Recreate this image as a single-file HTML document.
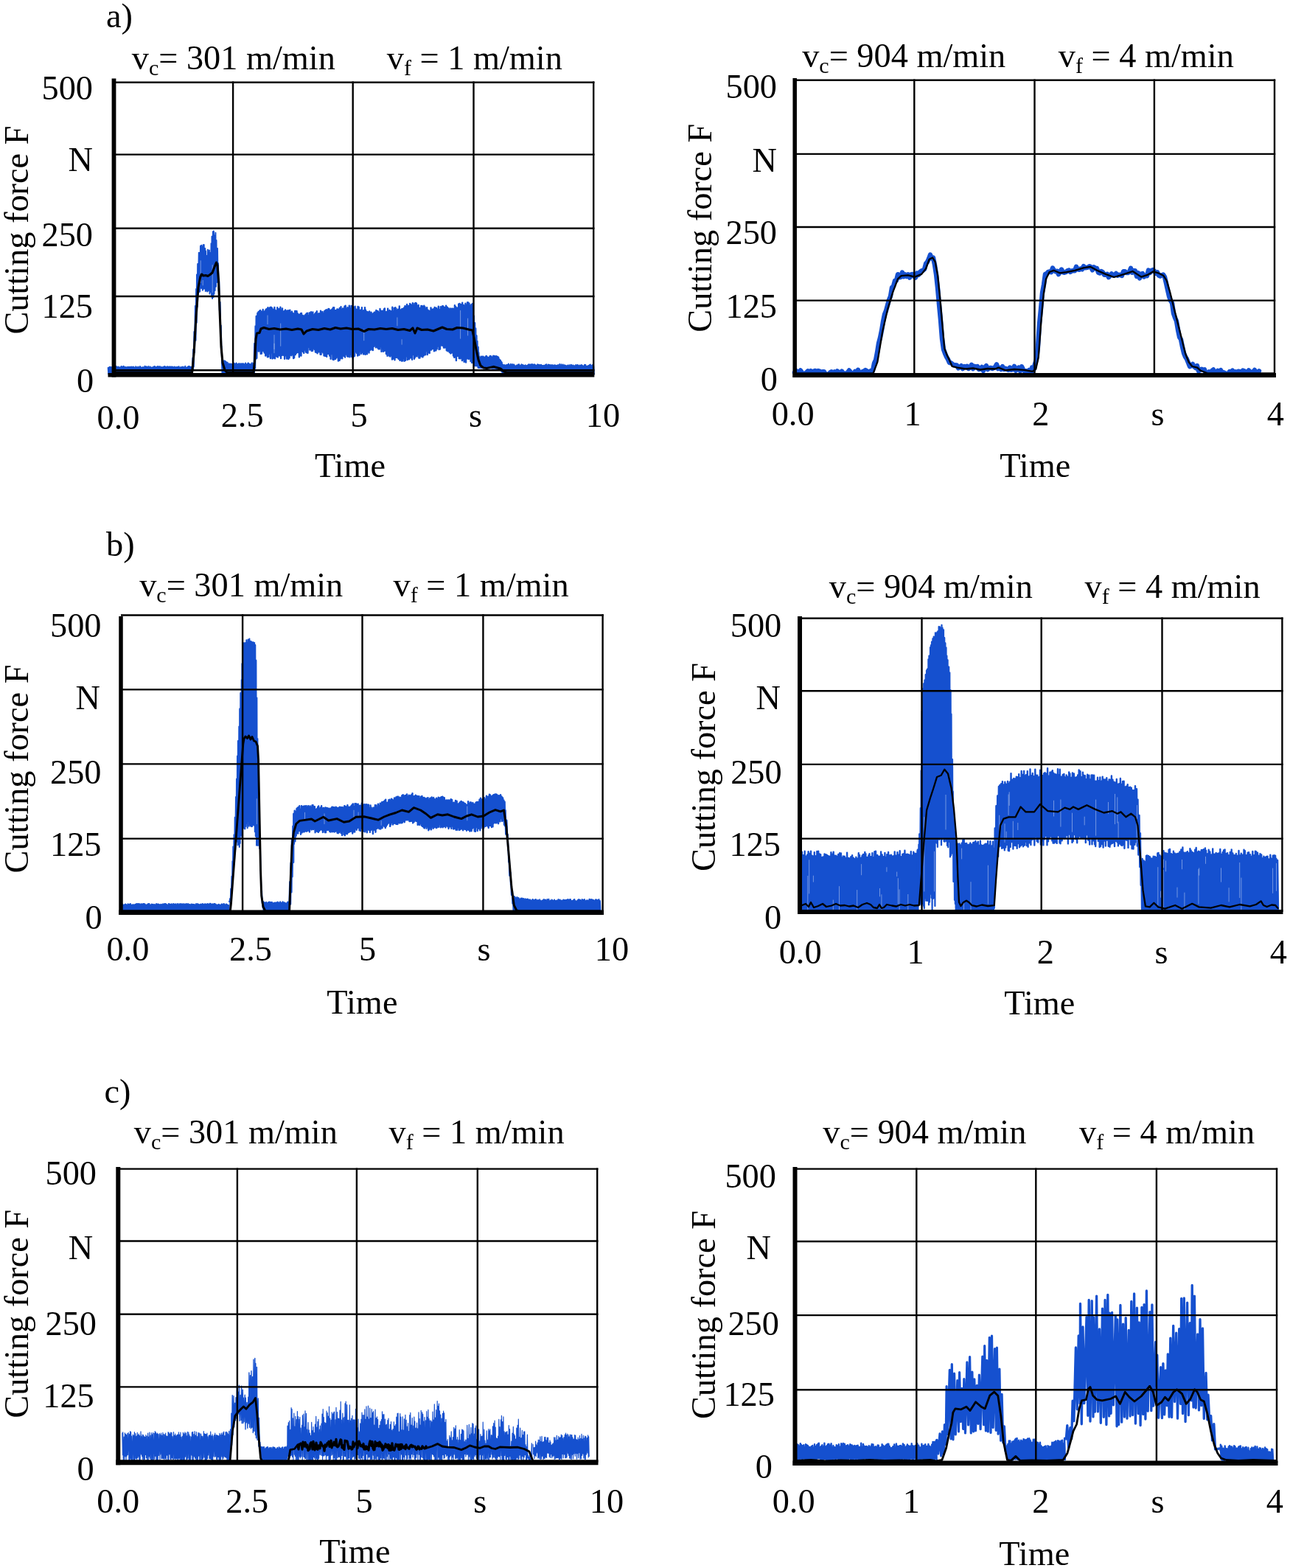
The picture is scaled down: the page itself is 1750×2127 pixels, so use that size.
<!DOCTYPE html>
<html lang="en">
<head>
<meta charset="utf-8">
<title>Cutting force over time</title>
<style>
html,body{margin:0;padding:0;background:#fff;}
body{width:1750px;height:2127px;overflow:hidden;}
svg{display:block;}
svg text{font-family:"Liberation Serif",serif;font-size:46.3px;fill:#000;white-space:pre;}
</style>
</head>
<body>

<svg width="1750" height="2127" viewBox="0 0 1750 2127">
<rect width="1750" height="2127" fill="#fff"/>
<g id="chart-al">
<g fill="none" stroke="#1550cf" stroke-linejoin="round" stroke-linecap="round">
<polyline points="146.7,498.9 147.3,507.5 147.8,498.5 148.3,507.5 148.9,497.8 149.4,507.5 149.9,498.1 150.5,507.5 151,498.1 151.6,507.5 152.1,498.6 152.6,507.5 153.5,496.9 154.1,507.5 154.6,496.8 155.2,507.5 155.8,498.5 156.3,507.5 156.7,497.2 157.3,507.5 157.7,497.1 158.2,507.5 158.9,498.5 159.5,507.5 160.2,497.6 160.8,507.5 161.2,498.4 161.8,507.5 162,498.2 162.6,507.5 163.1,498.6 163.7,507.5 164.5,496.9 165.1,507.5 165.5,497.4 166,507.5 166.6,497.4 167.2,507.5 167.8,496.7 168.4,507.5 168.7,497.7 169.2,507.5 169.8,498.5 170.4,507.5 170.8,497.9 171.3,507.5 172.2,498.6 172.8,507.5 173.3,497.8 173.9,507.5 174.5,498.1 175,507.5 175.3,498.1 175.8,507.5 176.5,497.8 177,507.5 177.6,498.3 178.1,507.5 178.5,497.6 179.1,507.5 179.8,498.3 180.4,507.5 180.8,497.6 181.3,507.5 182,498.2 182.6,507.5 183.2,498.9 183.7,507.5 184.2,497.3 184.7,507.5 185.3,498.3 185.8,507.5 186.6,498.7 187.1,507.5 187.3,497.6 187.8,507.5 188.5,498.5 189,507.5 189.9,497 190.4,507.5 190.6,498.1 191.1,507.5 191.8,498.5 192.3,507.5 193,498.7 193.6,507.5 193.9,498.1 194.4,507.5 195.2,498.4 195.8,507.5 196.5,496.7 197,507.5 197.5,497.5 198,507.5 198.3,497.6 198.9,507.5 199.5,497.5 200,507.5 200.9,498.7 201.4,507.5 201.6,497 202.1,507.5 203,498.7 203.6,507.5 203.8,497.5 204.4,507.5 205.3,498.7 205.8,507.5 206.2,498.4 206.7,507.5 207.4,498.2 208,507.5 208.6,497.4 209.2,507.5 209.5,496.9 210.1,507.5 210.7,497.6 211.3,507.5 211.8,499.1 212.4,507.5 212.7,497.9 213.2,507.5 213.8,496.9 214.4,507.5 215.1,497.6 215.6,507.5 215.9,497.2 216.4,507.5 217.2,497.3 217.7,507.5 218.2,498.3 218.7,507.5 219.5,497.9 220.1,507.5 220.6,498.4 221.1,507.5 221.7,497.9 222.2,507.5 222.8,497 223.3,507.5 223.8,497.6 224.3,507.5 224.7,497.6 225.3,507.5 225.8,498.4 226.3,507.5 227,497.3 227.6,507.5 228.1,497.5 228.7,507.5 229.3,497.9 229.8,507.5 230.4,497.3 231,507.5 231.6,497.9 232.1,507.5 232.4,497.6 233,507.5 233.8,497.6 234.4,507.5 234.8,498.3 235.3,507.5 236,498 236.6,507.5 236.8,497.5 237.4,507.5 238.3,498.3 238.8,507.5 239.1,498 239.7,507.5 240.3,498.1 240.8,507.5 241.5,497.8 242.1,507.5 242.7,497.2 243.2,507.5 243.4,498.5 243.9,507.5 244.6,498.4 245.1,507.5 245.8,497.9 246.4,507.5 246.8,498.3 247.3,507.5 248.1,497.4 248.7,507.5 249.2,498.7 249.7,507.5 250.3,498.1 250.8,507.5 251.2,496.8 251.8,507.5 252.4,498.8 252.9,507.5 253.6,498.4 254.1,507.5 254.5,497.9 255,507.5 255.5,497.1 256.1,507.5 256.7,497.1 257.2,507.5 257.7,497.4 258.2,507.5 259.2,497.8 259.8,507.5" stroke-width="2"/>
<polyline points="260.1,503.4 260.7,505.8 261.4,485.3 262,500.8 262.2,474.1 262.8,497.6 263.4,450 264,477.9 264.9,415 265.5,461.8 266.1,392 266.7,437.8 267,372.5 267.6,416.2 268.2,357.9 268.8,399.2 269.8,342.8 270.4,395.9 270.6,343 271.2,395.4 272,333.7 272.6,390.7 273.2,332.7 273.8,390.9 274.3,334.8 274.9,393.8 275.6,332.2 276.2,391.8 276.7,332 277.3,391.6 278.2,336.9 278.8,394.9 279,340.6 279.6,394.2 280.6,347.1 281.2,395.4 281.8,338.7 282.4,394.6 282.6,345.2 283.2,392.6 283.9,339.6 284.5,398.4 285.3,342.9 285.9,395.9 286.5,330.2 287.1,402.4 287.5,320.8 288.1,405 288.9,314.3 289.5,403 289.9,313.4 290.5,398.5 291,319.3 291.6,394 292.4,315.8 293,388.7 293.5,326.1 294.1,382.9 295,337 295.6,382.3 296,357 296.6,394.8 297.2,381.5 297.8,421.1 298.6,409.7 299.2,455.8 299.8,441.4 300.4,478.7 300.6,470.2 301.2,493.4 301.8,485.3 302.4,500.3" stroke-width="2"/>
<path d="M272.2 353.7V383.5M275.2 380.4V386.9M288.2 359.6V396.7" stroke="#fff" stroke-opacity="0.45" stroke-width="0.9"/>
<polyline points="301,491 301.5,507.5 302.1,489.6 302.6,507.5 303.1,490.9 303.7,507.5 304.1,489.2 304.6,507.5 305.5,489.8 306.1,507.5 306.3,490.4 306.9,507.5 307.4,491.6 307.9,507.5 308.6,491.8 309.1,507.5 309.9,494.7 310.5,507.5 310.7,493.3 311.2,507.5 312.2,494 312.7,507.5 313.2,493.6 313.7,507.5 314.2,494.4 314.8,507.5 315.1,494.1 315.7,507.5 316.3,495.1 316.9,507.5 317.6,492.8 318.1,507.5 318.6,494.2 319.1,507.5 319.5,493.4 320.1,507.5 320.7,492.6 321.3,507.5 322,493.9 322.6,507.5 323.1,494.5 323.7,507.5 324.2,493.1 324.7,507.5 325.1,494.1 325.6,507.5 326.5,493.3 327.1,507.5 327.5,493.7 328,507.5 328.3,493.6 328.9,507.5 329.5,493.3 330.1,507.5 330.6,493.4 331.1,507.5 332,494.6 332.5,507.5 333.1,492.6 333.6,507.5 334.2,494.4 334.7,507.5 335.3,494 335.8,507.5 336.4,492.6 337,507.5 337.3,492.8 337.8,507.5 338.4,493.9 339,507.5 339.4,494.9 340,507.5 340.4,493.8 341,507.5 341.8,492.3 342.3,507.5 342.6,494.6 343.2,507.5 344.1,493.6 344.6,507.5" stroke-width="2"/>
<polyline points="343.9,492.9 344.6,505.7 345.3,466 346,499.5 346.6,442.4 347.3,486.6 347.7,429 348.3,485.8 349.4,424.8 350,476 350.6,423.1 351.2,476.6 352,421.9 352.6,474.1 353,421 353.7,479.9 354.3,422.6 355,479.5 355.4,423 356.1,473.8 356.7,419.9 357.4,476.2 358.1,423.3 358.7,478.6 359.5,421.8 360.2,482.6 360.7,419.8 361.3,481.6 362.2,418.9 362.9,484.3 363.5,417.3 364.2,483.9 365,418.8 365.7,479.6 366.3,417.1 366.9,486 367.5,416.8 368.2,478.4 368.9,417.7 369.5,486.4 370.1,420.3 370.7,485.7 371.4,419.4 372.1,484.2 372.4,417 373,486.3 373.7,420.9 374.3,482.8 375.1,421.8 375.7,483.7 376.3,417.3 376.9,484.4 377.8,419.5 378.4,481.9 378.9,419.2 379.6,482.6 380.4,416.7 381,486 381.9,421 382.5,481.9 383,418.5 383.6,481.2 384.5,423.2 385.1,481.9 385.4,422.2 386.1,486.7 387,420.4 387.6,482.2 388.3,424.2 389,486.5 389.4,421.5 390,486 390.6,421.5 391.3,486.9 392,421.3 392.6,485.4 393.4,420.7 394,481.6 394.7,424.6 395.4,482.2 396,422.6 396.6,480.5 397.5,425 398.1,486.1 398.4,425.6 399.1,485.2 400.1,421.9 400.8,481.1 401.4,421.9 402,479 402.6,422.1 403.3,477.7 403.9,425.5 404.5,478.1 405.2,427 405.9,484.3 406.4,426.7 407,482 407.9,425.2 408.5,482.6 409,425 409.6,475.6 410.4,427.9 411,477 411.6,428.7 412.2,478.9 412.7,428.4 413.3,474.7 414.4,426.9 415,477.6 415.6,425.5 416.2,478.2 416.9,424.7 417.5,478.7 418.3,428.4 418.9,470.8 419.6,424.4 420.3,474.6 420.5,424.4 421.1,469.5 422,423.2 422.7,476.1 423.4,427.6 424.1,475.7 424.4,423.5 425,472.7 426,427.4 426.7,474 427.2,425.8 427.9,477.6 428.5,424.2 429.2,477.9 429.8,422.1 430.5,479.3 431,425.7 431.6,477.4 432.6,425.1 433.3,477.2 433.9,425.5 434.6,480.8 435,421.6 435.6,480.8 436.1,423.3 436.8,476.7 437.6,423 438.3,478.4 438.9,426 439.5,482.4 440.3,421.9 440.9,482.8 441.3,421.2 442,482.9 442.6,420.1 443.2,483.8 444.3,420.5 444.9,479.7 445.5,419 446.2,479.9 446.5,419.3 447.1,482.6 447.9,421.4 448.6,486.8 449.4,420.5 450.1,480.1 450.8,419.3 451.4,487.6 452,417.3 452.7,488.1 453.2,417.3 453.9,482.6 454.3,421 455,487 455.8,421.1 456.4,485.2 457.3,419.5 458,482.5 458.2,419.7 458.9,489.5 459.9,419.8 460.6,488.9 460.8,418 461.5,486.8 462.5,416.3 463.1,485.5 463.7,419.7 464.3,486.2 465.1,418.5 465.7,482.6 466.3,419.3 466.9,483.1 467.4,415.8 468.1,484.5 468.7,414.7 469.3,480.5 470.3,418.9 471,482.9 471.4,417.3 472,483.8 472.9,417.9 473.6,483.2 473.8,414.8 474.5,484.3 475.2,419 475.8,480.9 476.5,415 477.1,483.8 478.1,415.2 478.7,485.8 479,419.7 479.7,483.7 480.4,416.7 481.1,482.7 481.7,415.8 482.4,477.2 483.3,419.6 484,479 484.6,420.5 485.2,482.6 485.5,416 486.1,481.6 486.8,416.7 487.5,481.6 488.3,421 488.9,476.4 489.5,420.7 490.1,479.8 490.9,417.3 491.6,477.7 492.4,422.3 493,480.4 493.3,421.3 494,479.9 495,417.3 495.6,480.9 495.9,420.5 496.6,477.4 497.3,422.8 498,480.2 498.6,423.2 499.3,476.8 499.9,423.8 500.6,478.5 501.2,422.5 501.8,475 502.6,425.7 503.2,472.9 503.6,423.7 504.3,474.4 505.3,425.9 505.9,475.1 506.7,425 507.3,469.7 507.7,423.7 508.3,467.2 509.1,423.4 509.8,471.3 510.3,421 510.9,470.3 511.7,421.9 512.3,471.8 512.8,422.4 513.4,473.2 514.2,424.5 514.9,473.4 515.5,419 516.1,470.4 516.9,421.8 517.5,476.9 518.2,422.4 518.9,470.2 519.4,421.6 520,476.8 521,419.2 521.6,475.7 521.9,418.5 522.5,473.9 523.2,423.3 523.9,480 524.8,423 525.5,482.8 526.1,418.7 526.8,477.2 527.3,422.2 528,482.5 528.6,420.9 529.3,483.5 530.1,422.2 530.7,482 531.4,422.1 532,487.6 532.3,416.8 533,486.8 534.1,422.1 534.7,486 534.9,417.9 535.5,488.3 536.4,417.1 537.1,484.9 537.5,418.8 538.1,484.5 538.7,421.3 539.4,485.3 540.1,419.8 540.7,486.8 541.8,415.5 542.4,488.7 542.8,420.6 543.4,485.5 544.1,420.3 544.8,489.5 545.3,418.9 545.9,489.5 546.6,419.5 547.2,486.3 547.9,417.7 548.5,489.7 549.4,415.1 550.1,488.8 550.5,415.8 551.2,483.4 552.1,413 552.8,488 553.5,416.1 554.1,483.6 554.4,414.9 555.1,487.3 556.1,412 556.7,485.2 557.1,412.9 557.7,485.3 558.4,414.6 559.1,487.7 559.8,411.1 560.5,481 561.3,414.2 562,486.8 562.4,411.7 563,484.8 563.9,411 564.6,482.9 565,411.8 565.7,483.4 566.2,414.8 566.8,480.6 567.7,413.9 568.3,485.6 568.9,417.8 569.5,485.5 570.2,417.7 570.8,482 571.3,415 571.9,483.4 572.8,415.3 573.4,484.4 574.2,416.2 574.9,482.3 575.3,414.7 576,479.1 576.5,416.5 577.1,481.3 577.8,419 578.5,476 579.2,417.2 579.8,481.1 580.6,420.8 581.3,478.2 582.1,421.8 582.7,478.9 583.4,422.3 584,474.6 584.5,417.4 585.1,474.6 586.1,419.6 586.7,473 587.2,420.9 587.8,470 588.2,419.1 588.9,476.3 589.6,416.9 590.3,475.5 590.7,417.6 591.4,475.4 592.1,418 592.7,473.2 593.7,419.6 594.4,469.6 594.8,415.7 595.5,474 596.3,420.5 597,473.6 597.7,416.1 598.4,465.9 598.7,416.7 599.3,468.6 600.2,415.3 600.9,468.8 601.3,415.5 601.9,471.5 602.9,416.9 603.5,471.6 603.9,417.7 604.6,468.9 605.1,414.8 605.8,475.2 606.8,416.8 607.4,476.3 608.1,418.3 608.8,475.8 609.1,420.3 609.7,477.7 610.6,418.5 611.3,479.4 612,420.4 612.7,478.5 612.9,418.8 613.5,477.5 614.3,418.8 615,482.5 615.6,419.4 616.2,484.8 616.9,414.1 617.6,484.3 618.2,416.2 618.9,489 619.7,417.6 620.4,482.9 620.7,417.7 621.3,482.9 622.2,412.4 622.8,486 623.7,412 624.4,486.3 625,413.8 625.6,485.5 626.2,413 626.9,489.1 627.2,410.8 627.9,487.5 628.9,414 629.6,490.7 629.9,415.5 630.5,490.5 631.4,411.7 632.1,491.6 632.5,413.5 633.1,486.6 634.1,410.3 634.7,486.4 635.3,410.4 636,486.9 636.5,411.7 637.2,485.3 637.8,415 638.5,489.9 639.4,413.1 640,491.9 640.3,415.4 641,487" stroke-width="2.4"/>
<path d="M624.6 421.3V459.2M545.1 460.7V467.2M493.7 446.7V461.8M372 454.6V473.5M634.6 432.1V455M538.9 430.9V441.9M372 466.2V478.7M380.7 439V469.3M363 428V439.7" stroke="#fff" stroke-opacity="0.45" stroke-width="0.9"/>
<polyline points="640.8,411.8 641.3,491.8 641.9,419.1 642.4,493.7 643,428.6 643.6,495.8 644.3,438.1 644.9,496.4 645.4,445.6 645.9,496 646.6,455.2 647.2,496.8 647.6,462.8 648.1,496.3 648.8,470.7 649.4,496.9 649.5,478.2 650,497.4" stroke-width="2"/>
<polyline points="648.1,483.6 648.6,499 649,484.4 649.5,499 650.1,483.8 650.6,499.1 651.3,485.3 651.9,499.1 652.4,483.6 652.9,499.2 653.4,483.8 653.9,499.2 654.5,483.5 655,499.2 655.5,483.4 656.1,499.3 656.8,484.4 657.3,499.3 658,484.4 658.5,499.4 659.2,482.9 659.7,499.4 660,482.7 660.6,499.4 661.4,484.2 661.9,499.5 662.4,485 662.9,499.5 663.4,484.7 663.9,499.6 664.5,483.1 665.1,499.6 665.5,482.8 666.1,499.6 666.8,483.4 667.4,499.7 668,484.9 668.5,499.7 669.1,482.6 669.7,499.7 670.1,483 670.6,499.8 670.9,482.8 671.5,499.8 672.2,483.3 672.7,499.9 673.3,483 673.9,499.9 674.3,483.5 674.8,499.9 675.5,484.1 676,500 676.4,484.7 677,500.6 677.7,487.5 678.2,501.7 679,488.7 679.5,502.8 680,490.5 680.5,503.9 680.8,491.6 681.4,505.2 681.9,494.4 682.5,506.5 683,495.8 683.5,507.5 684.1,495.1 684.6,507.5 685.5,495.6 686,507.5 686.6,495.6 687.1,507.5 687.4,494.8 688,507.5 688.9,494.8 689.4,507.5 689.9,493.6 690.4,507.5 691,495 691.6,507.5 691.9,496 692.5,507.5 693,493.7 693.5,507.5 694.2,495.3 694.8,507.5 695.4,494.1 696,507.5 696.6,495.7 697.1,507.5 697.4,494.5 698,507.5 698.6,496.3 699.1,507.5 699.8,496.4 700.3,507.5 700.8,495.5 701.3,507.5 701.7,495.8 702.3,507.5 702.9,494.5 703.5,507.5 704.1,494.2 704.6,507.5 705,496.4 705.6,507.5 706.2,495.4 706.8,507.5 707.6,494.3 708.1,507.5 708.5,495.9 709.1,507.5 709.5,495.1 710.1,507.5 710.7,495.9 711.3,507.5 711.6,496.2 712.2,507.5 712.7,495.3 713.3,507.5 714.1,496.2 714.6,507.5 715,495.9 715.6,507.5 716.3,495 716.9,507.5 717.1,494.2 717.7,507.5 718.6,494.4 719.1,507.5 719.5,494.6 720,507.5 720.5,494.8 721.1,507.5 721.6,494.1 722.2,507.5 722.9,494.5 723.5,507.5 723.7,494.7 724.3,507.5 725.2,494.3 725.7,507.5 726.3,495.3 726.8,507.5 727.1,495.8 727.6,507.5 728.4,495.4 728.9,507.5 729.2,494.2 729.7,507.5 730.7,494.8 731.2,507.5 731.5,495.1 732,507.5 732.5,495.2 733,507.5 734,494.7 734.5,507.5 734.7,495.6 735.3,507.5 735.8,496 736.4,507.5 737.2,495.8 737.7,507.5 738.3,496.1 738.8,507.5 739.5,495.2 740,507.5 740.2,494.7 740.8,507.5 741.3,494.3 741.9,507.5 742.5,496.4 743,507.5 743.7,494.5 744.3,507.5 744.8,495 745.4,507.5 745.8,495.1 746.3,507.5 747.2,495.3 747.8,507.5 748.3,495.7 748.8,507.5 749.1,495 749.7,507.5 750.4,496 750.9,507.5 751.6,495.2 752.1,507.5 752.5,495.7 753,507.5 753.5,495.6 754,507.5 754.8,495.7 755.3,507.5 755.7,495.9 756.3,507.5 757,495 757.6,507.5 757.9,496.3 758.5,507.5 759.2,494.1 759.7,507.5 760.3,496.5 760.8,507.5 761.4,494.2 762,507.5 762.3,495.6 762.9,507.5 763.7,494.4 764.2,507.5 764.5,496.1 765.1,507.5 765.8,495.3 766.3,507.5 766.9,495.7 767.4,507.5 767.8,496.1 768.4,507.5 769.1,496.6 769.6,507.5 770.1,495.6 770.7,507.5 771.3,496.2 771.8,507.5 772.2,495.2 772.7,507.5 773.4,496.7 773.9,507.5 774.4,494.7 775,507.5 775.6,495.3 776.2,507.5 776.5,496.4 777.1,507.5 777.6,495.6 778.2,507.5 779.1,496.3 779.6,507.5 779.9,496.5 780.4,507.5 781.2,495.1 781.8,507.5 782.2,496.6 782.8,507.5 783.3,495.1 783.8,507.5 784.2,495.4 784.8,507.5 785.5,496.6 786,507.5 786.5,495.4 787,507.5 787.6,495.8 788.1,507.5 789,495.1 789.6,507.5 790,496 790.6,507.5 791,496.4 791.6,507.5 791.9,496.5 792.5,507.5 793.1,494.7 793.6,507.5 794.4,495.1 795,507.5 795.3,496.7 795.8,507.5 796.6,496.7 797.2,507.5 797.5,496.4 798,507.5 798.5,496.1 799.1,507.5 799.9,494.9 800.4,507.5 800.8,494.6 801.4,507.5 801.9,495.7 802.4,507.5 803.3,496 803.8,507.5 804.1,494.8 804.7,507.5 805.2,496.5 805.8,507.5" stroke-width="2"/>
</g>
<g stroke="#000" stroke-width="2.4" fill="none">
<line x1="316.1" y1="110.5" x2="316.1" y2="508.8"/>
<line x1="478.7" y1="110.5" x2="478.7" y2="508.8"/>
<line x1="642.5" y1="110.5" x2="642.5" y2="508.8"/>
<line x1="805.2" y1="110.5" x2="805.2" y2="508.8"/>
<line x1="154" y1="111.7" x2="806.4" y2="111.7"/>
<line x1="154" y1="209.6" x2="806.4" y2="209.6"/>
<line x1="154" y1="309.7" x2="806.4" y2="309.7"/>
<line x1="154" y1="402" x2="806.4" y2="402"/>
<line x1="154" y1="502.2" x2="806.4" y2="502.2"/>
</g>
<g stroke="#000" fill="none">
<line x1="154.5" y1="106.5" x2="154.5" y2="511.6" stroke-width="5.8"/>
<line x1="146.5" y1="508.8" x2="806.3" y2="508.8" stroke-width="5.6"/>
</g>
<g fill="none" stroke="#000" stroke-linejoin="round" stroke-linecap="round">
<polyline points="156,505.2 260.6,505.2 263,480 266,430 269,390 271.7,376 273.5,372 276,374 279,373.5 282,374.5 285,372.5 288,370 291,362 293.5,356 295,360 296.5,380 298,420 300,470 302,492 305,502 308,505.2 344,505.2 345.5,490 347,460 348.5,452 352,451.5 354,446 358,444.5 365,446.5 372,445.5 380,447 388,446 396,447.5 404,446 409,447 412,453 416,449 424,446.5 432,447.5 440,445.5 448,447 455,444.5 462,446 470,445 478,446.5 486,446 494,449.5 500,446.5 508,447 516,445.5 524,446.5 532,445.5 540,447.5 548,446.5 556,448.5 560,445 563,452 566,445 572,447.5 580,447 588,449 594,446.5 600,444 606,446.5 614,447 620,444.5 628,445 636,447 640.9,448 643,458 646,474 649,488 652,496 656,499 660.5,499.5 669.7,497.4 678.9,500 683.5,504 688,505.2 804,505.2" stroke-width="3.1"/>
</g>
<g>
<text x="144" y="36.6">a)</text>
<text x="178.8" y="94.3">v<tspan font-size="30" dy="8">c</tspan><tspan dy="-8">= 301 m/min</tspan></text>
<text x="524.8" y="94.3">v<tspan font-size="30" dy="8">f</tspan><tspan dy="-8"> = 1 m/min</tspan></text>
<text x="126" y="135.4" text-anchor="end">500</text>
<text x="126" y="232.4" text-anchor="end">N</text>
<text x="126" y="333.5" text-anchor="end">250</text>
<text x="126" y="431.2" text-anchor="end">125</text>
<text x="127.2" y="531.6" text-anchor="end">0</text>
<text x="160.5" y="581.7" text-anchor="middle">0.0</text>
<text x="328.6" y="579.1" text-anchor="middle">2.5</text>
<text x="487" y="579.1" text-anchor="middle">5</text>
<text x="645" y="579.1" text-anchor="middle">s</text>
<text x="818" y="579.1" text-anchor="middle">10</text>
<text x="475" y="646.9" text-anchor="middle">Time</text>
<text transform="translate(38.3 312) rotate(-90)" text-anchor="middle">Cutting force F</text>
</g>
</g>
<g id="chart-ar">
<g fill="none" stroke="#1550cf" stroke-linejoin="round" stroke-linecap="round">
<polyline points="1078,505.1 1080,502.9 1082,505.3 1084,505.1 1086,502.5 1088,505.7 1090,508 1092,506.9 1094,505.4 1096,503.3 1098,506.7 1100,503.2 1102,507.6 1104,503.5 1106,502.9 1108,507.1 1110,503 1112,503.5 1114,506.5 1116,504.3 1118,504.3 1120,508.1 1122,507.7 1124,508.6 1126,505.5 1128,504.2 1130,505.7 1132,504.4 1134,508.5 1136,503.4 1138,507.5 1140,507.2 1142,503.5 1144,507.1 1146,506.5 1148,507.2 1150,505.2 1152,502.5 1154,505 1156,508.4 1158,508 1160,503.8 1162,506.2 1164,501.7 1166,506.7 1168,505.7 1170,504.3 1172,503.5 1174,502.1 1176,503.2 1178,504.6 1180,504.6 1182,502.6 1184,502.8 1186,492.6 1188,488.5 1190,478.2 1192,465.5 1194,458.1 1196,448.4 1198,436.2 1200,426.5 1202,421.5 1204,414.1 1206,406.7 1208,402 1210,389.9 1212,388.3 1214,380.7 1216,380.5 1218,372.2 1220,376.3 1222,375.9 1224,369.5 1226,375.2 1228,372.3 1230,375 1232,372.4 1234,376.6 1236,372.3 1238,371.9 1240,375 1242,376.6 1244,370.6 1246,372.9 1248,369.1 1250,367.5 1252,366.7 1254,365.2 1256,357.7 1258,355.4 1260,351 1262,345.6 1264,350.5 1266,349.6 1268,359.3 1270,372.2 1272,390.6 1274,413.1 1276,434.1 1278,459.5 1280,473.8 1282,479.4 1284,484.1 1286,487.4 1288,492.1 1290,492.3 1292,493.8 1294,495.4 1296,495.3 1298,495.4 1300,499.4 1302,497.9 1304,496.2 1306,500.1 1308,497 1310,497.7 1312,496.7 1314,500 1316,498.5 1318,494.8 1320,500.2 1322,496.8 1324,497.8 1326,497 1328,501 1330,500.4 1332,497.9 1334,503 1336,498.4 1338,496.2 1340,501.1 1342,499.1 1344,498.9 1346,500 1348,499.1 1350,498 1352,494.4 1354,500.1 1356,499.1 1358,501.1 1360,497.2 1362,500.9 1364,499.7 1366,500.8 1368,501.8 1370,498.5 1372,501.7 1374,501.2 1376,496.8 1378,502.6 1380,501.1 1382,498.6 1384,503.2 1386,497.3 1388,501.3 1390,503.7 1392,503.1 1394,504.8 1396,502.1 1398,505.6 1400,498.5 1402,502.6 1404,493.8 1406,487.9 1408,470.4 1410,439.7 1412,419.3 1414,397.3 1416,386.3 1418,371.7 1420,371.1 1422,368.8 1424,368.5 1426,369.3 1428,363.5 1430,366.9 1432,368.4 1434,367.7 1436,372.1 1438,368.8 1440,365.5 1442,369.3 1444,369.8 1446,369.1 1448,367.2 1450,366.6 1452,369 1454,367.5 1456,367.1 1458,367.4 1460,361.7 1462,365.4 1464,365.9 1466,364.4 1468,365.4 1470,361.1 1472,363.3 1474,363 1476,362.6 1478,361.2 1480,362.1 1482,366.4 1484,362.4 1486,364.2 1488,364 1490,369.8 1492,370.6 1494,368 1496,369.2 1498,372.8 1500,372.5 1502,371.7 1504,376.2 1506,373.8 1508,371.4 1510,373.6 1512,372.9 1514,370.9 1516,373.7 1518,372.6 1520,373.1 1522,374 1524,368.3 1526,368.1 1528,370 1530,370.1 1532,369 1534,363.8 1536,369.8 1538,367.2 1540,367.3 1542,375 1544,370.2 1546,377.5 1548,371.7 1550,371 1552,375.5 1554,373.5 1556,374.3 1558,366.5 1560,369.9 1562,366.9 1564,366.1 1566,367.7 1568,370.9 1570,369.3 1572,373.6 1574,374.6 1576,373.2 1578,372.6 1580,375.7 1582,384.3 1584,393.4 1586,402 1588,408 1590,410.8 1592,425.3 1594,431 1596,435.5 1598,447.5 1600,457.2 1602,460.4 1604,470.6 1606,479 1608,484 1610,487.1 1612,492 1614,497.2 1616,496.3 1618,494 1620,497.4 1622,499.1 1624,496 1626,503.5 1628,501.9 1630,500.8 1632,501.6 1634,501.3 1636,507.6 1638,507.4 1640,504.5 1642,508.6 1644,503.1 1646,501.5 1648,507.5 1650,507 1652,502.8 1654,503.8 1656,502.1 1658,505.5 1660,505.3 1662,506.1 1664,507.6 1666,507.6 1668,504 1670,504.5 1672,502.6 1674,505.7 1676,504.3 1678,506.5 1680,503.7 1682,504.1 1684,506.2 1686,502.6 1688,503.2 1690,505.5 1692,506.3 1694,502.4 1696,504.5 1698,504.8 1700,504.4 1702,502 1704,506.4 1706,506.5 1708,503.3" stroke-width="6.4" stroke-linejoin="round"/>
</g>
<g stroke="#000" stroke-width="2.4" fill="none">
<line x1="1240.3" y1="107.5" x2="1240.3" y2="509"/>
<line x1="1403.5" y1="107.5" x2="1403.5" y2="509"/>
<line x1="1565.9" y1="107.5" x2="1565.9" y2="509"/>
<line x1="1729" y1="107.5" x2="1729" y2="509"/>
<line x1="1078.2" y1="108.7" x2="1730.2" y2="108.7"/>
<line x1="1078.2" y1="208.9" x2="1730.2" y2="208.9"/>
<line x1="1078.2" y1="308" x2="1730.2" y2="308"/>
<line x1="1078.2" y1="407.6" x2="1730.2" y2="407.6"/>
</g>
<g stroke="#000" fill="none">
<line x1="1078.2" y1="106" x2="1078.2" y2="512" stroke-width="5.5"/>
<line x1="1075.4" y1="509" x2="1731" y2="509" stroke-width="6"/>
</g>
<g fill="none" stroke="#000" stroke-linejoin="round" stroke-linecap="round">
<polyline points="1080,506.3 1184.6,506.3 1190.3,491.2 1197.2,449.8 1204.1,419.8 1211,396.8 1218,378.3 1222.6,374.2 1231.8,373.3 1241,375.6 1250.2,371.9 1256,364.5 1260.6,351.8 1265.2,349.5 1268.7,355.3 1272.1,373.7 1275.6,408.3 1279,447.5 1281.3,472.8 1284.8,482 1288.2,489 1291.7,497 1298.6,498.6 1310,500.5 1320,499.5 1330,501.5 1340,500 1350,500.5 1354.6,498.6 1363.8,502.3 1376,501 1389,501.8 1400.7,503.9 1405.3,500.5 1408.8,484.3 1412.2,438.2 1415.7,399 1419.1,378.3 1423.7,369 1429.5,366.8 1437.6,370.3 1446.8,369.1 1458.3,366.8 1469.8,363.4 1479,361.8 1488.2,366.8 1499.8,371.9 1511.3,376 1525.1,371.9 1536.6,368 1548.2,375.6 1557.4,372.6 1564.3,368.4 1571.2,370.3 1578.1,373.7 1582.7,380.6 1587.3,396.8 1594.2,424.4 1601.2,452 1608.1,479.7 1612.7,491.2 1617.3,497 1624.2,498.6 1628.8,502.8 1638,506.3 1728,506.3" stroke-width="2.3"/>
</g>
<g>
<text x="1088.2" y="90.6">v<tspan font-size="30" dy="8">c</tspan><tspan dy="-8">= 904 m/min</tspan></text>
<text x="1435.8" y="90.6">v<tspan font-size="30" dy="8">f</tspan><tspan dy="-8"> = 4 m/min</tspan></text>
<text x="1054" y="133.4" text-anchor="end">500</text>
<text x="1054" y="233" text-anchor="end">N</text>
<text x="1054" y="331" text-anchor="end">250</text>
<text x="1054" y="431.4" text-anchor="end">125</text>
<text x="1055" y="530" text-anchor="end">0</text>
<text x="1075.6" y="576.8" text-anchor="middle">0.0</text>
<text x="1238" y="576.8" text-anchor="middle">1</text>
<text x="1411.8" y="576.8" text-anchor="middle">2</text>
<text x="1570.6" y="576.8" text-anchor="middle">s</text>
<text x="1730.3" y="576.8" text-anchor="middle">4</text>
<text x="1404.2" y="646.8" text-anchor="middle">Time</text>
<text transform="translate(964.7 309.3) rotate(-90)" text-anchor="middle">Cutting force F</text>
</g>
</g>
<g id="chart-bl">
<g fill="none" stroke="#1550cf" stroke-linejoin="round" stroke-linecap="round">
<polyline points="165.8,1226.2 166.3,1236 167.2,1227.4 167.7,1236 168,1227.9 168.6,1236 169.2,1226.9 169.7,1236 170.2,1226.4 170.8,1236 171.3,1227.2 171.9,1236 172.4,1227.8 172.9,1236 173.6,1226.3 174.1,1236 174.7,1227.1 175.2,1236 176.1,1226.5 176.6,1236 177,1226.1 177.5,1236 178.2,1227.5 178.7,1236 179.1,1227.9 179.7,1236 180.4,1227 180.9,1236 181.5,1228.1 182,1236 182.5,1227.2 183.1,1236 183.5,1227.1 184.1,1236 184.9,1226 185.5,1236 185.9,1226.8 186.4,1236 186.8,1226.1 187.3,1236 188,1226.1 188.5,1236 189.3,1226.2 189.8,1236 190.2,1227.3 190.7,1236 191.4,1226.2 191.9,1236 192.2,1226.4 192.8,1236 193.4,1226.6 193.9,1236 194.4,1226.1 195,1236 195.8,1225.9 196.3,1236 196.6,1226.5 197.1,1236 198,1227.4 198.5,1236 199,1227.8 199.5,1236 200.2,1226.7 200.8,1236 201.1,1226.1 201.7,1236 202.5,1226.1 203,1236 203.4,1227.4 204,1236 204.5,1227.5 205,1236 205.7,1226.5 206.3,1236 206.7,1227.2 207.3,1236 207.7,1226.7 208.3,1236 208.9,1227.6 209.5,1236 209.9,1227.1 210.5,1236 211.2,1227.5 211.7,1236 212.1,1226.1 212.7,1236 213.1,1227.2 213.7,1236 214.3,1226.3 214.9,1236 215.6,1227 216.2,1236 216.7,1227.2 217.2,1236 217.6,1227.2 218.1,1236 218.7,1226.7 219.3,1236 219.9,1227.5 220.5,1236 221,1226.3 221.6,1236 222.2,1227 222.8,1236 223.1,1226.1 223.6,1236 224.3,1226 224.9,1236 225.4,1226.4 225.9,1236 226.5,1227.3 227,1236 227.8,1228.1 228.3,1236 228.7,1226.1 229.2,1236 229.9,1226.2 230.5,1236 230.8,1227.1 231.4,1236 231.8,1226.8 232.4,1236 232.9,1226.2 233.5,1236 234.2,1227.6 234.7,1236 235.2,1226.1 235.8,1236 236.4,1226.4 236.9,1236 237.7,1226.8 238.2,1236 238.7,1226.2 239.2,1236 239.9,1227.8 240.4,1236 241,1226.1 241.5,1236 241.8,1227.9 242.3,1236 243.2,1226.2 243.7,1236 244,1227.5 244.5,1236 245.2,1225.9 245.8,1236 246.4,1226.5 247,1236 247.3,1226.9 247.8,1236 248.4,1226.1 248.9,1236 249.6,1227.6 250.2,1236 250.7,1226.3 251.3,1236 251.8,1227.4 252.4,1236 252.9,1225.9 253.4,1236 254.1,1227.1 254.7,1236 255.1,1226.1 255.6,1236 256,1227.4 256.5,1236 257.1,1226.7 257.6,1236 258.6,1227.2 259.2,1236 259.7,1226.4 260.2,1236 260.5,1226.8 261,1236 261.9,1226.7 262.4,1236 262.9,1227.3 263.5,1236 263.9,1227.1 264.5,1236 265.2,1227.5 265.7,1236 266.1,1226.1 266.7,1236 267.4,1227.2 267.9,1236 268.2,1226.1 268.7,1236 269.4,1226.9 269.9,1236 270.5,1227.6 271.1,1236 271.4,1227.1 272,1236 272.6,1226.4 273.1,1236 273.9,1226.7 274.5,1236 274.9,1225.9 275.4,1236 276.1,1227.3 276.7,1236 277,1226.8 277.5,1236 278,1226.3 278.5,1236 279.5,1226.4 280.1,1236 280.3,1227.4 280.8,1236 281.5,1226.1 282,1236 282.6,1226.4 283.1,1236 283.6,1227.1 284.1,1236 284.6,1225.8 285.2,1236 285.8,1225.8 286.4,1236 287.2,1227.2 287.7,1236 288.3,1226.3 288.8,1236 289.3,1227.8 289.9,1236 290.4,1226.1 290.9,1236 291.2,1226 291.8,1236 292.5,1226.4 293,1236 293.8,1227.7 294.3,1236 294.7,1227.5 295.2,1236 295.8,1227.5 296.4,1236 296.8,1226.7 297.3,1236 297.8,1227.4 298.3,1236 299.3,1227.7 299.9,1236 300.4,1226.5 300.9,1236 301.2,1226.5 301.8,1236 302.4,1227.5 303,1236 303.4,1226.1 303.9,1236 304.6,1226.5 305.1,1236 305.5,1227.8 306.1,1236 306.9,1226.5 307.4,1236 307.7,1226.8 308.3,1236 309.1,1227.7 309.7,1236 310,1227.9 310.5,1236" stroke-width="2"/>
<polyline points="310.9,1222.8 311.5,1223.3 312,1219.1 312.5,1232.3 313.2,1205.5 313.7,1224 314.4,1188.7 314.9,1208.3 315.4,1168.3 315.9,1188 316.3,1148.4 316.9,1180.8 317.5,1132.3 318.1,1165.4 318.7,1108.7 319.2,1152.8 320,1081.1 320.5,1141.5 321,1056.4 321.5,1141.4 322,1025.4 322.5,1146.4 322.9,1004.9 323.5,1145.2 324.3,985.4 324.8,1149.1 325.2,961.6 325.7,1144.1 326.3,940 326.8,1133.1 327.7,922.3 328.3,1136.1 328.4,900.3 329,1124.5 329.8,880.6 330.3,1123 331,872.1 331.5,1124.2 331.8,872.6 332.4,1124.6 333,872 333.5,1121 334.3,868.2 334.8,1117.2 335.1,871.3 335.7,1123.2 336.5,867.4 337,1114.1 337.2,868.7 337.8,1120.7 338.4,866.6 338.9,1118.1 339.5,869.8 340,1120.6 340.7,870.2 341.2,1121.2 341.7,870.7 342.2,1121 342.9,871.7 343.5,1118.8 343.8,871.3 344.4,1119.5 345.2,872.1 345.8,1128.3 346.3,874.9 346.8,1134.4 347.4,895.7 348,1146.8 348.4,946.4 348.9,1140 349.4,1002.1 349.9,1147.1 350.7,1049.5 351.3,1136.5 351.6,1103.7 352.1,1150.9 352.9,1146 353.5,1180.6 353.8,1182.7 354.4,1210.5 355.1,1208.3 355.7,1225.2 356.1,1222.3 356.6,1231.1" stroke-width="2"/>
<path d="M348.3 1083.7V1117.7M353 1168.7V1175.2" stroke="#fff" stroke-opacity="0.45" stroke-width="0.9"/>
<polyline points="357,1223.1 357.6,1236 358.1,1223.9 358.6,1236 359.3,1224.5 359.9,1236 360.1,1224.9 360.7,1236 361.2,1223.7 361.8,1236 362.7,1225.2 363.2,1236 363.7,1224.3 364.2,1236 364.7,1223.8 365.3,1236 365.9,1223.5 366.5,1236 366.8,1224 367.4,1236 368,1224 368.6,1236 368.9,1223.8 369.4,1236 370.1,1225.3 370.7,1236 371.3,1224.9 371.8,1236 372.5,1224.5 373,1236 373.3,1224.8 373.9,1236 374.8,1224.2 375.3,1236 375.8,1224.9 376.4,1236 376.7,1223.4 377.3,1236 377.9,1224.6 378.4,1236 379.1,1224.7 379.6,1236 380.1,1223.2 380.6,1236 381.4,1225.2 381.9,1236 382.1,1224.4 382.6,1236 383.6,1223.3 384.1,1236 384.6,1225.6 385.2,1236 385.5,1224.3 386,1236 386.8,1224.7 387.3,1236 387.6,1225.4 388.2,1236 388.8,1225.2 389.3,1236 390.1,1223.5 390.7,1236 391.2,1223.5 391.8,1236" stroke-width="2"/>
<polyline points="391.8,1223.9 392.4,1233.9 393.3,1196.2 394,1226.6 394.7,1170.8 395.4,1210.3 395.9,1138.5 396.5,1189.3 397.4,1120.8 398.1,1169.7 398.3,1104 398.9,1144.7 399.7,1099.8 400.4,1141.3 401.1,1101.3 401.7,1133.8 402.5,1097 403.1,1130 403.6,1095.6 404.2,1130.6 405.2,1094.7 405.8,1127 406.3,1093.3 407,1126.3 407.4,1097.8 408,1131.8 409.1,1093.3 409.8,1129.3 410,1094.3 410.7,1128 411.6,1094 412.3,1128.5 412.8,1093.4 413.5,1127.8 414.4,1093.4 415,1127.2 415.6,1093.3 416.2,1127.8 416.9,1095.4 417.6,1126.5 418.2,1093.2 418.9,1126.5 419.2,1097.1 419.9,1128.5 420.7,1093.4 421.3,1124.3 422.1,1095.2 422.7,1125.5 423.4,1092.5 424,1124.6 424.5,1092.1 425.1,1125.1 425.8,1095 426.5,1123.4 426.9,1094.3 427.6,1129.2 428.4,1097.9 429.1,1127.3 429.9,1097.3 430.5,1127.9 431.1,1094.6 431.8,1128.9 432.2,1093.5 432.9,1127.5 433.4,1097.2 434.1,1126.2 434.8,1095.6 435.4,1124.7 436.1,1093.3 436.8,1125.8 437.3,1096.3 437.9,1129 439,1096 439.7,1125.8 439.9,1096.8 440.6,1129 441.4,1095.5 442,1129.3 442.9,1096 443.5,1125.8 444.3,1096.3 444.9,1125.9 445.1,1096.7 445.8,1125.2 446.6,1096.8 447.3,1128 448.1,1097.7 448.7,1128.6 448.9,1096.4 449.6,1125.4 450.4,1094.8 451.1,1128.3 451.6,1095 452.3,1128 453.2,1095.3 453.9,1128.5 454.3,1097.9 455,1127.8 455.6,1094.8 456.2,1127.3 456.9,1095.8 457.6,1129.8 458.2,1096.5 458.8,1130.3 459.4,1095.8 460.1,1129.1 461,1094.6 461.7,1127.1 462,1095.1 462.6,1130.1 463.5,1095.3 464.1,1133 464.6,1095.1 465.2,1127.4 466.1,1095.8 466.7,1132.1 467.3,1093.1 467.9,1133.2 468.6,1093.9 469.2,1130.9 470.2,1094.7 470.9,1131.3 471.4,1092.3 472,1129.4 472.6,1094.6 473.3,1128.8 473.7,1094.9 474.3,1128.3 475.1,1094.8 475.7,1127.9 476.3,1093.4 476.9,1126.4 477.6,1091.7 478.2,1130.6 478.8,1090.4 479.5,1128.5 480.5,1094 481.2,1128.6 481.5,1090.1 482.1,1124.5 483.1,1090.3 483.8,1125.7 484.4,1091.4 485,1123.1 485.7,1090.6 486.3,1122.4 486.8,1093 487.5,1126.2 488.3,1092.7 489,1127.1 489.3,1093.1 489.9,1121.9 490.8,1089.8 491.4,1123.9 492.3,1091.2 493,1127.7 493.6,1092.9 494.3,1126.4 494.6,1091.2 495.2,1128.4 495.9,1091.7 496.5,1125.9 497.3,1091.3 497.9,1129.3 498.8,1091.9 499.4,1124.9 499.9,1091.6 500.6,1125.9 501.3,1096.5 502,1128.9 502.6,1092.4 503.2,1125.7 503.7,1095.4 504.3,1125.4 505.3,1097.6 505.9,1131.1 506.3,1095.7 506.9,1125.8 507.9,1095.5 508.6,1125.9 508.9,1092.1 509.5,1128.8 510.3,1092.5 510.9,1124.1 511.5,1095.6 512.1,1123.3 512.9,1090.6 513.6,1123.4 514,1092.6 514.7,1124.3 515.7,1089.7 516.3,1124.5 516.8,1091.9 517.5,1122.6 518,1088.3 518.6,1123.3 519.3,1088 520,1119.5 520.8,1087.2 521.4,1121.1 522.2,1085.7 522.8,1123.1 523.2,1084.8 523.8,1121 524.5,1089 525.1,1118.9 525.9,1088.6 526.5,1117 527.4,1085.1 528,1115.9 528.5,1084.8 529.2,1120.9 529.6,1086.3 530.2,1118.6 531,1083.6 531.7,1115.7 532.3,1084.7 533,1118.6 533.9,1085.5 534.6,1116.9 535,1082.5 535.7,1116.5 536.5,1084.9 537.1,1117.6 537.3,1081.5 538,1117.9 538.9,1080.6 539.5,1118 540.4,1080.8 541.1,1115.8 541.7,1082.9 542.3,1116.5 542.8,1081.8 543.5,1112.7 544.1,1082.3 544.7,1116.4 545.3,1079.3 546,1115.8 546.7,1078.3 547.4,1113.8 548.1,1079.6 548.8,1115.3 549.5,1079.2 550.1,1112.2 550.4,1078.9 551.1,1112.3 552,1077.5 552.7,1112.4 553.4,1080.6 554.1,1112 554.8,1078.8 555.4,1114 555.7,1079.7 556.3,1114 557.3,1079 558,1113.7 558.2,1078.3 558.9,1110.2 559.5,1076.2 560.2,1116.4 561.1,1080.4 561.7,1114.7 562.1,1080.2 562.8,1112.2 563.7,1078.8 564.3,1113.7 564.8,1079.7 565.5,1113.9 566,1079.9 566.7,1118.9 567.4,1080.2 568,1117.6 568.6,1080.2 569.2,1119.1 570,1083.2 570.7,1116.7 571.2,1080.7 571.9,1119.7 572.5,1079.9 573.1,1121 574.2,1082.2 574.9,1122.6 575.2,1082 575.8,1123.4 576.5,1082.7 577.2,1121.2 578,1083.6 578.6,1123.7 579.4,1082.8 580,1121.4 580.6,1082.3 581.3,1126.2 581.6,1085 582.3,1124.9 583.3,1082.9 584,1122.9 584.3,1082.8 584.9,1125.4 585.7,1081.5 586.4,1121.5 587,1083.5 587.6,1123.7 588.2,1081.9 588.9,1122.4 589.3,1084 590,1121.8 591.1,1084.5 591.7,1123 592,1082.6 592.7,1122.8 593.7,1083.8 594.3,1121.6 594.7,1081.6 595.4,1121.7 596,1082.8 596.7,1118 597.4,1082.1 598,1122.2 598.6,1081.1 599.2,1121.2 600.2,1080.8 600.8,1122.3 601.4,1081.8 602.1,1120.9 602.8,1082.3 603.5,1118.5 603.7,1086.1 604.4,1122.4 605.3,1085.5 606,1120.1 606.7,1085.8 607.4,1121.2 608,1085.4 608.6,1124.1 609.3,1085.6 610,1119.8 610.2,1085.9 610.8,1121.4 611.7,1084.1 612.4,1123.9 613.1,1084.9 613.7,1120.5 614.5,1089.1 615.2,1124.6 615.6,1088.6 616.2,1124.1 616.8,1089.8 617.5,1123.6 618,1086 618.6,1125.7 619.7,1086.8 620.3,1125.8 620.6,1090.6 621.2,1122.7 622.3,1090.1 623,1126.1 623.6,1088.7 624.2,1125.4 624.9,1087.5 625.5,1124.3 625.8,1086.9 626.5,1124.2 627.4,1088.3 628.1,1126.3 628.6,1088.4 629.2,1124.4 629.9,1089.8 630.5,1124.7 631.1,1090.2 631.7,1124.7 632.4,1091.8 633,1126.8 633.9,1091.6 634.5,1125.3 635.1,1087.3 635.8,1125.8 636.6,1090.4 637.3,1127.5 637.8,1088.5 638.5,1122.4 638.9,1088.4 639.6,1127.3 640.4,1089.7 641,1123.6 641.4,1088.9 642,1122.3 643.1,1090.6 643.7,1127.4 644.2,1091.5 644.8,1127.9 645.5,1088.6 646.1,1122.1 647,1087.9 647.7,1127.1 648.1,1088.6 648.8,1124.1 649.3,1087.8 650,1123.2 650.5,1084.7 651.2,1126.2 652,1082.6 652.6,1123.2 653.1,1084.4 653.8,1120.4 654.7,1084.1 655.3,1124.5 655.7,1085.9 656.4,1122.8 657,1082.1 657.7,1120.9 658.2,1084.2 658.9,1120.7 659.9,1079.7 660.6,1119.6 661.1,1081.9 661.8,1121 662.2,1080.7 662.8,1123 663.9,1077.8 664.6,1119.8 665.1,1078.4 665.7,1120.1 666.3,1080.8 666.9,1122.1 667.8,1079.6 668.5,1121.4 669,1078.6 669.6,1116.7 670,1078.2 670.7,1115.5 671.6,1077.4 672.2,1116.2 672.9,1077.4 673.6,1116.3 674.1,1077.9 674.7,1114.2 675.5,1079.5 676.1,1117.2 676.9,1079.2 677.5,1110.9 677.9,1080.3 678.5,1114.3 679.1,1078.3 679.8,1110.1 680.6,1080.7 681.3,1113.9 682.1,1082.4 682.8,1112.9 683.3,1085.5 684,1118.8 684.6,1087.7 685.2,1120.5 685.6,1099.1 686.2,1131.5 687.3,1112.7 688,1138.3 688.6,1132 689.3,1153.7 689.7,1149.9 690.3,1169.5 690.8,1166.6 691.4,1187.7 692.5,1183.7 693.1,1200.7 693.4,1198.4 694.1,1214.2 694.9,1208.2 695.5,1225.6" stroke-width="2.4"/>
<path d="M440 1103.9V1117.6M517.2 1113.5V1119.4M486.1 1102V1107.3M633.8 1094V1112.9M413.5 1102.3V1111.5M480 1099.2V1111.6" stroke="#fff" stroke-opacity="0.45" stroke-width="0.9"/>
<polyline points="695.9,1217 696.5,1236 697.3,1216 697.8,1236 698.4,1216.4 699,1236 699.5,1218 700,1236 700.2,1219.1 700.7,1236 701.4,1217 702,1236 702.5,1218.2 703.1,1236 703.6,1218 704.2,1236 705,1219.4 705.6,1236 705.8,1219.5 706.4,1236 706.9,1218.4 707.4,1236 708.3,1218.5 708.9,1236 709.4,1219.2 710,1236 710.4,1219.1 711,1236 711.6,1220.7 712.1,1236 712.6,1219.3 713.2,1236 713.7,1220.8 714.2,1236 714.7,1219.8 715.3,1236 715.8,1219.4 716.4,1236 716.9,1220.3 717.4,1236 718,1221.5 718.5,1236 719,1220.3 719.5,1236 720.4,1221.6 720.9,1236 721.5,1221.3 722.1,1236 722.4,1220.1 723,1236 723.7,1220.6 724.2,1236 724.6,1222.3 725.1,1236 725.8,1220.5 726.3,1236 726.9,1219.9 727.4,1236 727.8,1220.9 728.4,1236 729.1,1221.6 729.6,1236 730.1,1220.9 730.7,1236 731.1,1222.6 731.6,1236 732.2,1220.3 732.8,1236 733.3,1222.1 733.8,1236 734.7,1222.3 735.2,1236 735.4,1221.4 736,1236 736.9,1220.9 737.4,1236 737.8,1219.9 738.4,1236 739,1220.9 739.5,1236 740,1220.5 740.6,1236 740.9,1221.4 741.4,1236 742.4,1220.1 743,1236 743.1,1222.3 743.6,1236 744.4,1219.8 744.9,1236 745.4,1222 745.9,1236 746.8,1221.5 747.3,1236 747.8,1221.7 748.3,1236 748.6,1220.4 749.2,1236 749.8,1221.6 750.3,1236 750.9,1222.2 751.5,1236 752.1,1220.6 752.6,1236 753.3,1222 753.9,1236 754.1,1222 754.7,1236 755.3,1221.6 755.9,1236 756.4,1221.7 757,1236 757.5,1219.9 758.1,1236 758.8,1221.2 759.4,1236 759.7,1220.4 760.3,1236 760.8,1222.2 761.4,1236 761.9,1221.4 762.5,1236 762.9,1221.9 763.5,1236 764.2,1220.4 764.7,1236 765.3,1221 765.8,1236 766.3,1221.1 766.9,1236 767.7,1220.9 768.2,1236 768.5,1221.1 769.1,1236 769.8,1219.9 770.3,1236 770.8,1222.2 771.4,1236 771.8,1220.2 772.3,1236 773.1,1220.3 773.7,1236 774,1220.1 774.6,1236 775.2,1222.1 775.7,1236 776.2,1222.1 776.7,1236 777.5,1221.6 778.1,1236 778.3,1220.6 778.9,1236 779.4,1220.1 779.9,1236 780.6,1222.2 781.2,1236 781.8,1222.2 782.3,1236 783,1222.3 783.6,1236 783.8,1220.9 784.3,1236 785.2,1219.9 785.8,1236 786.2,1220.7 786.7,1236 787.1,1220.7 787.6,1236 788.4,1221.8 789,1236 789.7,1219.9 790.2,1236 790.4,1220.9 790.9,1236 791.5,1220.7 792,1236 792.9,1220 793.4,1236 793.7,1221.5 794.2,1236 795,1222.3 795.6,1236 796.1,1221.3 796.6,1236 797,1221.6 797.6,1236 798.2,1221.8 798.8,1236 799.5,1219.7 800.1,1236 800.4,1220.3 800.9,1236 801.5,1220.2 802.1,1236 802.8,1220 803.4,1236 803.9,1221.3 804.4,1236 804.8,1220.7 805.3,1236 806,1221.5 806.6,1236 807.2,1221.9 807.8,1236 808,1220.3 808.6,1236 809.5,1220.5 810.1,1236 810.3,1222.2 810.8,1236 811.6,1220.7 812.1,1236 812.4,1219.9 813,1236 813.9,1222 814.5,1236" stroke-width="2"/>
</g>
<g stroke="#000" stroke-width="2.4" fill="none">
<line x1="329.1" y1="833.3" x2="329.1" y2="1237.8"/>
<line x1="491.5" y1="833.3" x2="491.5" y2="1237.8"/>
<line x1="655.4" y1="833.3" x2="655.4" y2="1237.8"/>
<line x1="817.6" y1="833.3" x2="817.6" y2="1237.8"/>
<line x1="164" y1="834.5" x2="818.8" y2="834.5"/>
<line x1="164" y1="935.4" x2="818.8" y2="935.4"/>
<line x1="164" y1="1036.4" x2="818.8" y2="1036.4"/>
<line x1="164" y1="1137.6" x2="818.8" y2="1137.6"/>
</g>
<g stroke="#000" fill="none">
<line x1="164" y1="836" x2="164" y2="1241.1" stroke-width="5.5"/>
<line x1="161.2" y1="1237.8" x2="819" y2="1237.8" stroke-width="6.6"/>
</g>
<g fill="none" stroke="#000" stroke-linejoin="round" stroke-linecap="round">
<polyline points="166,1236 312.3,1236 313.5,1225 329.8,1009 331,1002 333,999 335.5,1001.5 337.5,998 340,1003 342,999.5 344.5,1005 347,1006 349.5,1012 350.5,1030 351.5,1080 352.5,1130 353.5,1180 354.7,1215 357,1230 360,1236 392.6,1236 394.5,1184 396.1,1147.5 398.4,1129 401.8,1117.5 406.5,1113.4 413.4,1112.4 422.6,1111 427.2,1114 438.7,1108.3 445.6,1113 457.1,1110.6 466.4,1115.2 473.8,1114 483,1108.3 494.6,1107.8 504,1110 513,1112.2 521,1108 529.1,1104.8 537,1102.5 545.3,1099 554.5,1101.4 561.4,1095.6 570.6,1099 578,1104 584.4,1109.4 593.6,1104.8 600,1106 607.5,1104.8 616,1108 625.9,1110.6 633,1107 639.7,1104.8 648,1108 655.9,1107 664,1102 672,1098.6 678.9,1100.9 683.5,1099 687,1122 690.4,1161.3 693.9,1202.8 697.3,1228 700.8,1235 704,1236 814,1236" stroke-width="2.9"/>
</g>
<g>
<text x="144" y="754.3">b)</text>
<text x="189.2" y="808.7">v<tspan font-size="30" dy="8">c</tspan><tspan dy="-8">= 301 m/min</tspan></text>
<text x="533.6" y="808.7">v<tspan font-size="30" dy="8">f</tspan><tspan dy="-8"> = 1 m/min</tspan></text>
<text x="137.5" y="864.2" text-anchor="end">500</text>
<text x="136" y="962.2" text-anchor="end">N</text>
<text x="137.5" y="1063.1" text-anchor="end">250</text>
<text x="137.5" y="1160.9" text-anchor="end">125</text>
<text x="138.6" y="1260" text-anchor="end">0</text>
<text x="173.4" y="1303" text-anchor="middle">0.0</text>
<text x="340" y="1303" text-anchor="middle">2.5</text>
<text x="498.6" y="1303" text-anchor="middle">5</text>
<text x="656.5" y="1303" text-anchor="middle">s</text>
<text x="830" y="1303" text-anchor="middle">10</text>
<text x="491.4" y="1375.4" text-anchor="middle">Time</text>
<text transform="translate(38.2 1043) rotate(-90)" text-anchor="middle">Cutting force F</text>
</g>
</g>
<g id="chart-br">
<g fill="none" stroke="#1550cf" stroke-linejoin="round" stroke-linecap="round">
<polyline points="1087.9,1155.7 1088.8,1236 1089.7,1160.1 1090.5,1236 1091.7,1154.7 1092.5,1236 1093.4,1161.7 1094.2,1236 1095.1,1159.8 1096,1236 1096.6,1155.2 1097.5,1236 1098.3,1157.9 1099.1,1236 1100,1154.7 1100.8,1236 1101.5,1160.7 1102.4,1236 1103,1161.5 1103.8,1236 1104.8,1156.1 1105.6,1236 1106.9,1161.3 1107.8,1236 1108.3,1155 1109.2,1236 1110.2,1154.7 1111.1,1236 1111.8,1158.5 1112.7,1236 1113.2,1159.3 1114,1236 1115.1,1163 1115.9,1236 1116.7,1162.5 1117.5,1236 1118.5,1158.5 1119.3,1236 1120.6,1159.2 1121.5,1236 1122.2,1160.3 1123,1236 1123.7,1161.3 1124.5,1236 1125.2,1161.8 1126.1,1236 1127.4,1156.1 1128.2,1236 1128.5,1158.4 1129.4,1236 1130.7,1155.6 1131.5,1236 1132.3,1160.8 1133.1,1236 1134.2,1160.8 1135.1,1236 1135.3,1161.8 1136.2,1236 1137.2,1158.9 1138,1236 1139.1,1157.3 1140,1236 1140.9,1157.4 1141.7,1236 1142.4,1163.6 1143.2,1236 1143.8,1161.4 1144.6,1236 1145.8,1161.8 1146.6,1236 1147.8,1163.9 1148.6,1236 1149.1,1156.8 1150,1236 1151,1164 1151.9,1236 1152.7,1164.4 1153.6,1236 1154.3,1162.3 1155.2,1236 1156.1,1160.2 1156.9,1236 1157.8,1163.7 1158.7,1236 1159.7,1165.1 1160.5,1236 1161.3,1162.6 1162.1,1236 1163,1164.6 1163.8,1236 1164.8,1157.1 1165.7,1236 1166,1159.9 1166.8,1236 1168.2,1163.8 1169.1,1236 1169.6,1160.8 1170.5,1236 1171,1159 1171.8,1236 1173.3,1155.9 1174.2,1236 1174.4,1158.1 1175.2,1236 1176.2,1162.9 1177.1,1236 1178.4,1160.1 1179.2,1236 1179.5,1158.3 1180.4,1236 1181.3,1162.1 1182.2,1236 1183.4,1157.1 1184.2,1236 1184.8,1163.1 1185.6,1236 1186.4,1155.3 1187.2,1236 1188,1154.7 1188.9,1236 1190.2,1159.9 1191.1,1236 1191.5,1161.8 1192.4,1236 1193.5,1161.6 1194.4,1236 1195.1,1155.4 1195.9,1236 1196.7,1159.4 1197.6,1236 1198.7,1162.1 1199.5,1236 1200.4,1157 1201.3,1236 1202.1,1162.8 1202.9,1236 1203.3,1159.1 1204.1,1236 1205.1,1156 1206,1236 1206.8,1160.4 1207.6,1236 1208.8,1159.6 1209.6,1236 1210.3,1161.5 1211.2,1236 1212.3,1161.2 1213.1,1236 1213.7,1155.4 1214.6,1236 1215.4,1160.8 1216.2,1236 1217.4,1156.2 1218.3,1236 1219.2,1159.8 1220,1236 1220.7,1154.2 1221.5,1236 1222.3,1162.2 1223.2,1236 1224.3,1158.8 1225.1,1236 1226,1158.1 1226.9,1236 1227.4,1153.8 1228.2,1236 1229.3,1159 1230.2,1236 1231,1158.7 1231.8,1236 1232.5,1159.2 1233.4,1236 1234,1159.9 1234.9,1236 1235.8,1155.1 1236.7,1236 1237.9,1160.5 1238.7,1236 1239.2,1155.6 1240,1236 1240.9,1157.7 1241.8,1236 1242.7,1158 1243.5,1236 1244.6,1154.2 1245.4,1236" stroke-width="2.4"/>
<path d="M1231.8 1213.4V1234M1218.3 1191.6V1226.1M1130.3 1221V1234M1162.7 1207.5V1234M1138.5 1202.5V1234M1168.6 1172.5V1186.8M1103.4 1188.1V1196.2M1202.9 1176.7V1182.3M1097.7 1166.7V1212M1095.8 1188.4V1234M1216.7 1183V1188.7M1220.1 1206.8V1234M1195.9 1213.7V1234M1193.5 1205.3V1215.9" stroke="#fff" stroke-opacity="0.45" stroke-width="0.9"/>
<polyline points="1244.8,1152.5 1245.4,1212.2 1246.4,1145.5 1247,1223.3 1247.2,1131.3 1247.8,1225.4 1248.8,1096.2 1249.4,1227.5 1249.7,1045.3 1250.3,1223.7 1250.8,964.8 1251.4,1226 1252.3,933.8 1252.9,1228.8 1253.2,927.3 1253.8,1232.3 1254.4,922.7 1255,1218.5 1255.7,915 1256.3,1221.8 1257,909.3 1257.6,1221.7 1258,907.7 1258.6,1221.8 1259.4,894.3 1260,1227.4 1260.4,889.5 1261,1223.7 1262,878 1262.6,1212.7 1263,875.2 1263.6,1218 1264,870.7 1264.6,1234.3 1265.4,866.3 1266,1218.8 1266.7,863.5 1267.3,1217.8 1267.8,864.4 1268.4,1229.1 1268.9,858.4 1269.5,1138.9 1270.1,859.5 1270.7,1143.7 1271.3,857.6 1271.9,1149 1272.5,856.1 1273.1,1135.7 1273.6,850 1274.2,1139 1275,850.3 1275.6,1137.7 1276.4,851.8 1277,1146.3 1277.5,847.8 1278.1,1138.4 1278.5,851.6 1279.1,1136.1 1280,854.3 1280.6,1141.3 1281.2,865.2 1281.8,1141.7 1282.4,872.3 1283,1137 1283.5,878.3 1284.1,1141.2 1284.4,889.7 1285,1146.9 1285.6,895.3 1286.2,1149.3 1287.2,904.7 1287.8,1141.9 1288.3,912.4 1288.9,1162.4 1289.6,936.4 1290.2,1160.3 1290.5,968.7 1291.1,1157.8 1292,1030.1 1292.6,1155.2 1292.8,1073.7 1293.4,1195.9 1294.4,1105.7 1295,1220.9 1295.3,1128.4 1295.9,1226.1" stroke-width="2.2"/>
<path d="M1283 1078.4V1125.1M1267.5 1155.2V1209M1253.8 1108.6V1209" stroke="#fff" stroke-opacity="0.45" stroke-width="0.9"/>
<polyline points="1296,1138.1 1296.8,1236 1297.8,1142.8 1298.7,1236 1299.1,1144.6 1300,1236 1301.4,1144.5 1302.2,1236 1302.6,1146.2 1303.5,1236 1304.8,1143.6 1305.6,1236 1306.3,1139.5 1307.1,1236 1307.7,1139 1308.5,1236 1309.4,1144.3 1310.3,1236 1311.2,1143.9 1312,1236 1313.1,1145.9 1313.9,1236 1314.9,1145.8 1315.8,1236 1316.3,1143.4 1317.2,1236 1317.8,1145.5 1318.7,1236 1320.1,1143.3 1320.9,1236 1321.2,1142.6 1322.1,1236 1323.4,1141 1324.3,1236 1325.2,1143.6 1326,1236 1326.8,1141.8 1327.7,1236 1328,1146.8 1328.8,1236 1329.9,1140.8 1330.8,1236 1331.4,1146.4 1332.3,1236 1333.4,1146.9 1334.2,1236 1335.4,1145.7 1336.3,1236 1336.9,1144.7 1337.8,1236 1338.6,1144.7 1339.5,1236 1340.2,1140.9 1341.1,1236 1342,1146.7 1342.9,1236 1343.4,1141.3 1344.3,1236 1345.6,1147.5 1346.4,1236 1347,1141.7 1347.8,1236" stroke-width="2.4"/>
<path d="M1317 1196.6V1234M1307.5 1225.2V1234M1304.6 1151V1165M1340.4 1174.1V1226" stroke="#fff" stroke-opacity="0.45" stroke-width="0.9"/>
<polyline points="1347.8,1151 1348.7,1231.9 1349.7,1123.5 1350.6,1196.3 1351.4,1093.2 1352.3,1170.8 1353.2,1079.4 1354.1,1161.7 1354.9,1067 1355.8,1148.3 1356.4,1065 1357.2,1147.4 1358.2,1063.2 1359.1,1150.7 1359.9,1060.1 1360.7,1150 1361.9,1064.4 1362.8,1153.2 1363.3,1060.8 1364.2,1149.6 1364.7,1063.8 1365.6,1146 1367,1060 1367.8,1153.8 1368.1,1063 1369,1154.3 1369.8,1060.6 1370.7,1148.9 1371.5,1049.1 1372.4,1142.1 1373.5,1057.8 1374.4,1151.5 1375.2,1055.9 1376,1146.7 1377,1056.5 1377.9,1147.1 1378.8,1053.8 1379.7,1150.8 1380.3,1054.3 1381.1,1144.1 1382.2,1050.1 1383,1149.2 1383.9,1055.1 1384.8,1147.2 1385.7,1046 1386.5,1145.9 1387.2,1051 1388,1148.2 1389.1,1045.9 1389.9,1146.6 1390.3,1052.1 1391.2,1141.9 1391.9,1051.3 1392.7,1147 1393.8,1046.2 1394.6,1148.8 1395.9,1053.5 1396.7,1143.3 1397.5,1043.5 1398.4,1146.1 1398.7,1052 1399.5,1139.4 1400.8,1048.9 1401.6,1138.2 1402.5,1053.2 1403.3,1146.5 1404.3,1043.6 1405.2,1135.4 1405.8,1051.8 1406.7,1140.9 1407.3,1051.7 1408.2,1142.6 1409.4,1054.1 1410.3,1136.8 1411,1044.7 1411.9,1145.5 1412.9,1050.7 1413.8,1140.4 1414.5,1052.1 1415.4,1146.4 1416.1,1049.1 1417,1138.2 1417.6,1048.1 1418.4,1133.9 1419.7,1049.5 1420.5,1146.2 1421.1,1042.2 1422,1141.2 1422.6,1052.7 1423.5,1136.8 1424.4,1047.6 1425.2,1134.5 1426.5,1047 1427.3,1140.4 1427.8,1045.2 1428.6,1143.6 1429.3,1048.6 1430.2,1143.6 1431.3,1050.3 1432.1,1142.2 1432.8,1050.7 1433.7,1143.9 1435,1043.3 1435.8,1133.3 1436.6,1050.9 1437.5,1143.3 1437.8,1043.7 1438.6,1144.2 1439.9,1053.6 1440.7,1140.2 1441.7,1050.9 1442.5,1136.2 1443.4,1050 1444.3,1137.5 1444.7,1054.4 1445.5,1136.3 1446.7,1051.4 1447.6,1132.7 1448,1053.7 1448.9,1144.4 1450.2,1047.5 1451,1131.6 1451.4,1049.4 1452.2,1137.8 1453.7,1054.8 1454.5,1142.9 1454.9,1048.4 1455.7,1141 1456.9,1049.5 1457.7,1132.1 1458.2,1054.6 1459.1,1138.1 1460.4,1054.1 1461.2,1143.2 1462.1,1051.4 1463,1136 1463.7,1044.5 1464.5,1134.4 1465.5,1046.2 1466.4,1136.3 1467.2,1054.1 1468,1136.6 1468.9,1047.7 1469.8,1137.2 1470.2,1051.8 1471,1136.1 1472,1052.1 1472.8,1143 1473.5,1057.2 1474.3,1132.4 1475.2,1050.7 1476.1,1139.6 1477.4,1051.8 1478.2,1145.6 1478.9,1057.4 1479.7,1136.6 1480.6,1051.4 1481.5,1145.3 1482.2,1051.4 1483,1140.3 1484.2,1051.8 1485.1,1145.2 1485.4,1059.5 1486.2,1148 1487.3,1059.7 1488.1,1136.4 1489,1054.6 1489.8,1140.8 1490.8,1059.3 1491.7,1149.1 1492.3,1054.4 1493.1,1147.7 1494.4,1059.8 1495.3,1145.1 1495.7,1053.6 1496.6,1149.5 1497.3,1057.4 1498.1,1140.6 1499.1,1057.4 1499.9,1147.6 1501.3,1055.3 1502.1,1139.6 1502.8,1060.5 1503.7,1147.7 1504.6,1057.5 1505.5,1148.8 1505.8,1057.7 1506.6,1145.6 1507.9,1052.4 1508.8,1144 1509.5,1057.8 1510.3,1143.1 1511.1,1060.7 1512,1148.1 1512.7,1061.5 1513.6,1140.7 1514.8,1056.9 1515.7,1142.4 1516,1063.4 1516.9,1147.4 1518.2,1063.1 1519.1,1144.6 1519.9,1056 1520.8,1146.3 1521.5,1063.9 1522.4,1147.1 1523,1059.9 1523.9,1145.5 1524.6,1059.8 1525.4,1150.8 1526.5,1067.4 1527.3,1139.2 1528,1066.8 1528.8,1139.7 1529.7,1064.3 1530.5,1149.9 1531.4,1068.2 1532.3,1138.2 1533.1,1067.8 1533.9,1145.6 1534.8,1068.6 1535.6,1151.2 1536.6,1071.9 1537.5,1151.5 1538.5,1072.2 1539.4,1145.7 1540,1066.1 1540.8,1142.3 1542,1070.2 1542.8,1147.5 1543.5,1084.6 1544.3,1159.6 1545.5,1106 1546.3,1176 1546.9,1130.2 1547.7,1200.7" stroke-width="2.4"/>
<path d="M1542.5 1092.5V1110.3M1368.1 1077.9V1105.5M1363 1117.6V1142.4M1429.5 1086.2V1107.1M1512.5 1077.3V1117.7M1374.3 1114.2V1138.1M1380.8 1116.5V1125.6M1503.5 1088.4V1103.7M1365.2 1128.2V1136.7M1515.8 1081.8V1116.2M1454.5 1103.1V1128.3M1438.9 1084.9V1121.2M1486.6 1085V1133.3M1542.1 1114.7V1143.6M1517.1 1115V1137M1355.7 1106.2V1144.7M1471.2 1108.1V1119M1369.2 1074.7V1092.5" stroke="#fff" stroke-opacity="0.45" stroke-width="0.9"/>
<polyline points="1548.3,1169.3 1549.1,1236 1549.7,1164.9 1550.6,1236 1551.7,1167.5 1552.6,1236 1553.4,1168.9 1554.2,1236 1555,1161 1555.8,1236 1556.2,1160.5 1557.1,1236 1558,1161 1558.9,1236 1559.9,1162.2 1560.7,1236 1561.6,1164.5 1562.4,1236 1563.3,1164.8 1564.2,1236 1564.7,1161.8 1565.6,1236 1566.9,1162 1567.7,1236 1568.7,1163.1 1569.5,1236 1570.3,1157.4 1571.2,1236 1571.6,1156.9 1572.5,1236 1573.4,1160.2 1574.2,1236 1575.3,1161.6 1576.1,1236 1577.2,1162 1578,1236 1578.5,1154.3 1579.4,1236 1580.4,1157 1581.2,1236 1582.3,1157.4 1583.1,1236 1584,1158.2 1584.8,1236 1585.6,1152.6 1586.5,1236 1587,1151.9 1587.8,1236 1589,1158.2 1589.9,1236 1590.8,1158.9 1591.6,1236 1591.9,1154.6 1592.8,1236 1593.6,1157.5 1594.5,1236 1595.6,1158.4 1596.4,1236 1597.3,1158 1598.1,1236 1598.7,1157.8 1599.6,1236 1600.4,1155.4 1601.3,1236 1602.3,1152.4 1603.2,1236 1604.4,1149.4 1605.2,1236 1605.6,1156.1 1606.4,1236 1607.4,1156.9 1608.3,1236 1609.1,1156.5 1610,1236 1610.9,1155.1 1611.8,1236 1612.8,1157.3 1613.6,1236 1614.4,1151.1 1615.3,1236 1615.7,1153.7 1616.6,1236 1617.6,1155.9 1618.5,1236 1619.2,1157.1 1620.1,1236 1621.2,1152.7 1622.1,1236 1622.7,1150 1623.6,1236 1624.5,1155.9 1625.4,1236 1625.9,1154.8 1626.7,1236 1627.7,1155.4 1628.5,1236 1629.8,1152.9 1630.6,1236 1631.1,1153.1 1632,1236 1632.7,1152.2 1633.5,1236 1634.9,1150.4 1635.7,1236 1636.1,1153.6 1636.9,1236 1638.3,1158.1 1639.1,1236 1639.7,1152.7 1640.5,1236 1641.4,1155.4 1642.3,1236 1643.2,1159.5 1644,1236 1645.2,1151.5 1646.1,1236 1646.8,1158.6 1647.6,1236 1648.4,1158.8 1649.3,1236 1649.7,1157 1650.6,1236 1652,1158 1652.8,1236 1653.3,1157.5 1654.1,1236 1655.3,1152 1656.1,1236 1656.7,1158.9 1657.5,1236 1658.7,1156.1 1659.6,1236 1660,1153.5 1660.9,1236 1661.6,1152.4 1662.4,1236 1663.7,1157.9 1664.6,1236 1665.1,1157.1 1666,1236 1666.7,1160.2 1667.6,1236 1668.8,1156 1669.6,1236 1670.7,1152.5 1671.5,1236 1672.3,1157.5 1673.2,1236 1673.5,1159.6 1674.4,1236 1675.6,1160.3 1676.4,1236 1676.9,1157.9 1677.7,1236 1678.6,1160.9 1679.5,1236 1680.5,1153.9 1681.3,1236 1682.3,1160.5 1683.2,1236 1683.8,1157.6 1684.6,1236 1685.9,1159.6 1686.8,1236 1687.5,1152.8 1688.4,1236 1688.9,1154.3 1689.7,1236 1690.9,1160.3 1691.8,1236 1692.6,1156.7 1693.4,1236 1694.1,1156.1 1694.9,1236 1696.1,1159.2 1696.9,1236 1697.3,1161.7 1698.1,1236 1699.3,1155 1700.2,1236 1701.3,1160.3 1702.2,1236 1702.9,1154.8 1703.7,1236 1704.1,1155.3 1704.9,1236 1706,1156.7 1706.9,1236 1707.6,1161 1708.5,1236 1709.5,1158.2 1710.4,1236 1711.2,1159.5 1712,1236 1712.9,1164.4 1713.8,1236 1714.4,1161.6 1715.2,1236 1716.5,1163 1717.4,1236 1718.1,1161.9 1719,1236 1719.6,1161.6 1720.4,1236 1721.1,1165.4 1721.9,1236 1723.3,1159.8 1724.1,1236 1724.6,1164.8 1725.5,1236 1726.8,1160.8 1727.7,1236 1728.5,1160.1 1729.4,1236 1730.1,1160.7 1731,1236 1731.4,1164.9 1732.2,1236 1733.1,1167 1734,1236" stroke-width="2.4"/>
<path d="M1570.8 1176.6V1227.6M1603.5 1166.4V1178.8M1681.7 1170.4V1217.7M1626.7 1177.8V1187.2M1667.1 1204.6V1223M1581.5 1167.9V1181.9M1635.5 1162.3V1171.4M1683.9 1191V1234M1597 1204V1217.2M1656.5 1177.8V1196.2M1731.5 1171.3V1208.3M1606.9 1211.1V1234M1578.2 1180.4V1231.2M1726.6 1178V1211.4M1625.9 1179.4V1226.1M1574.6 1209.1V1217.3M1578.6 1166V1176.8" stroke="#fff" stroke-opacity="0.45" stroke-width="0.9"/>
</g>
<g stroke="#000" stroke-width="2.4" fill="none">
<line x1="1250.5" y1="837.5" x2="1250.5" y2="1237"/>
<line x1="1412.7" y1="837.5" x2="1412.7" y2="1237"/>
<line x1="1576.5" y1="837.5" x2="1576.5" y2="1237"/>
<line x1="1739.4" y1="837.5" x2="1739.4" y2="1237"/>
<line x1="1085" y1="838.7" x2="1740.6" y2="838.7"/>
<line x1="1085" y1="937.3" x2="1740.6" y2="937.3"/>
<line x1="1085" y1="1036.9" x2="1740.6" y2="1036.9"/>
<line x1="1085" y1="1137.6" x2="1740.6" y2="1137.6"/>
</g>
<g stroke="#000" fill="none">
<line x1="1085" y1="836" x2="1085" y2="1239.9" stroke-width="6"/>
<line x1="1082" y1="1237" x2="1740.5" y2="1237" stroke-width="5.8"/>
</g>
<g fill="none" stroke="#000" stroke-linejoin="round" stroke-linecap="round">
<polyline points="1088,1228 1093,1226 1097,1230 1100,1224 1104,1231 1110,1229 1116,1226 1121,1230 1128,1228.5 1134,1226 1140,1228.5 1146,1228 1152,1229.5 1158,1228.5 1164,1231 1170,1227 1176,1225 1181,1227 1185,1231 1190,1232 1193,1227 1196,1232 1199,1231 1203,1227 1210,1228.5 1216,1229.5 1222,1227 1228,1228.5 1234,1227 1240,1228.5 1246.8,1228 1250.2,1184.3 1253.7,1138.2 1257.1,1099 1261.8,1083 1266.4,1069 1271,1054 1276.7,1051.8 1281.3,1043.8 1286,1049.5 1290.6,1069 1294,1096.8 1297.5,1138 1299.4,1190 1301,1224 1303.4,1229 1307,1224 1311,1221.7 1314.5,1224 1318.6,1228.2 1325,1229.5 1332,1227.5 1340,1229 1348.8,1228.2 1351,1195 1353.5,1161.3 1357,1119.8 1361.5,1110.6 1368.4,1108.3 1377.6,1108.3 1384.6,1094.5 1391.5,1101.4 1403,1101.4 1411,1091 1421.4,1100.2 1435.3,1101.4 1444.5,1095.6 1451.4,1097.9 1456,1094.5 1462.9,1097.9 1474.4,1092.2 1485.9,1097.9 1497.5,1102.5 1509,1100.2 1515.9,1103.7 1520.5,1101.4 1527.4,1108.3 1534.3,1103.7 1540.1,1108.3 1543.5,1119.8 1547,1161.3 1550.5,1207.4 1553.9,1229.3 1559.7,1230.4 1565.4,1224.7 1571.2,1230.4 1580.4,1232.7 1594.2,1228 1603.5,1232.7 1617.3,1225.8 1626.5,1230.4 1642.6,1231.6 1656.5,1228 1668,1230.4 1681.8,1227 1695.6,1229.3 1704,1227 1710.6,1222.4 1714,1228 1718.7,1230 1725,1227.5 1730.2,1228 1733.6,1232" stroke-width="2.3"/>
</g>
<g>
<text x="1124.8" y="810.9">v<tspan font-size="30" dy="8">c</tspan><tspan dy="-8">= 904 m/min</tspan></text>
<text x="1471.6" y="810.9">v<tspan font-size="30" dy="8">f</tspan><tspan dy="-8"> = 4 m/min</tspan></text>
<text x="1060.2" y="864.2" text-anchor="end">500</text>
<text x="1059" y="962.2" text-anchor="end">N</text>
<text x="1060.6" y="1063.1" text-anchor="end">250</text>
<text x="1059" y="1160.9" text-anchor="end">125</text>
<text x="1060.2" y="1260.1" text-anchor="end">0</text>
<text x="1085.6" y="1307" text-anchor="middle">0.0</text>
<text x="1242" y="1307" text-anchor="middle">1</text>
<text x="1418.3" y="1307" text-anchor="middle">2</text>
<text x="1575.6" y="1307" text-anchor="middle">s</text>
<text x="1734.4" y="1307" text-anchor="middle">4</text>
<text x="1410.3" y="1376.4" text-anchor="middle">Time</text>
<text transform="translate(969.8 1040.5) rotate(-90)" text-anchor="middle">Cutting force F</text>
</g>
</g>
<g id="chart-cl">
<g fill="none" stroke="#1550cf" stroke-linejoin="round" stroke-linecap="round">
<polyline points="165.9,1944.2 166.5,1973.7 166.7,1942.8 167.3,1980.7 168.2,1949 168.8,1980.6 169.4,1943.8 170,1975.6 170.5,1945.4 171.1,1980.6 171.5,1946.5 172.1,1975.2 172.7,1944.4 173.3,1973.5 174.3,1943.4 174.9,1980.7 175.3,1945.6 175.9,1981.4 176.6,1941.7 177.2,1979 177.6,1942.7 178.2,1981.3 178.7,1948.1 179.3,1981.3 180.3,1946.1 180.9,1981.3 181.2,1947.3 181.8,1981.3 182.4,1942.7 183,1981.4 183.8,1944.5 184.4,1978.5 185.1,1948.1 185.7,1981 186.3,1943.4 186.9,1977.4 187.2,1946.6 187.8,1975.6 188.3,1945.2 188.9,1980.9 189.5,1947.4 190.1,1981.2 191,1941.9 191.6,1973 192.1,1948.5 192.7,1975.6 193.1,1946.1 193.7,1979.4 194.5,1946.6 195.1,1981.5 195.7,1948.7 196.3,1979.4 196.8,1949.3 197.4,1973.3 197.9,1946.6 198.5,1977.7 199.1,1948.1 199.7,1981.3 200.6,1944.2 201.2,1981.5 201.8,1949.2 202.4,1975.7 202.7,1943 203.3,1978.5 204.2,1947.1 204.8,1980.7 205.2,1943.7 205.8,1981.5 206.6,1945.9 207.2,1981.2 207.5,1943.5 208.1,1981.3 209.1,1944.4 209.7,1979.3 210.3,1941.6 210.9,1975.3 211.5,1943.2 212.1,1981.5 212.3,1945 212.9,1980.6 213.5,1944 214.1,1981.4 214.7,1945.7 215.3,1974.5 216.3,1944.5 216.9,1980.3 217.1,1946 217.7,1972.8 218.5,1944.2 219.1,1978.4 219.6,1947.2 220.2,1978.6 220.9,1943.4 221.5,1978.5 222,1945.6 222.6,1980.1 223.4,1945.9 224,1978.6 224.7,1944.2 225.3,1981.5 225.9,1947.9 226.5,1974.1 227.1,1948.4 227.7,1981.5 228.1,1942.6 228.7,1980.1 229.3,1943.5 229.9,1972.8 230.5,1945.1 231.1,1979.3 231.6,1943.2 232.2,1979.7 232.9,1943.3 233.5,1977.7 234,1948.7 234.6,1979.7 235.5,1942.7 236.1,1979.8 236.6,1947.2 237.2,1978.3 237.8,1945.1 238.4,1981.4 239,1947.5 239.6,1978.6 240.3,1946.3 240.9,1981.3 241.1,1946.1 241.7,1981.3 242.3,1942.9 242.9,1978.2 243.5,1946.2 244.1,1981.2 244.9,1943.1 245.5,1981.4 245.9,1949.5 246.5,1981.1 247.3,1948.4 247.9,1981.5 248.4,1943.3 249,1981.3 249.7,1944.9 250.3,1981.4 250.9,1942.8 251.5,1976.1 252.3,1944.2 252.9,1981 253.5,1947.9 254.1,1979.5 254.3,1942.4 254.9,1977.9 255.8,1942.9 256.4,1981.3 256.7,1946.1 257.3,1980.2 258,1948 258.6,1981.4 259.5,1949.1 260.1,1974.1 260.4,1942.9 261,1980.5 261.6,1942.3 262.2,1981.5 263,1945.6 263.6,1976 264.1,1941.7 264.7,1978.3 265.4,1947.1 266,1981.3 266.4,1942.5 267,1981.5 267.8,1948.5 268.4,1981.1 268.9,1943.4 269.5,1975.1 270.2,1943.9 270.8,1980.9 271.1,1944.8 271.7,1981 272.7,1945 273.3,1981.5 273.5,1948.1 274.1,1981.5 274.8,1948.4 275.4,1978.9 276.3,1941.7 276.9,1977 277.5,1944.9 278.1,1980.4 278.6,1945.3 279.2,1981.5 279.7,1945.7 280.3,1980.8 280.9,1944.2 281.5,1978.7 281.9,1948.8 282.5,1973.9 283.4,1947 284,1978.8 284.6,1946.8 285.2,1978.8 285.7,1942 286.3,1979.6 286.9,1947.8 287.5,1981.5 288.1,1945.9 288.7,1980.5 289.1,1948.2 289.7,1975.6 290.7,1946.7 291.3,1976.4 291.7,1944.2 292.3,1975.6 293.1,1946.7 293.7,1979.6 294.2,1946.7 294.8,1981.5 295.4,1947.3 296,1976.5 296.6,1947.8 297.2,1981.5 297.9,1944.4 298.5,1981.5 298.9,1946.4 299.5,1980 300.3,1944.1 300.9,1975.9 301.4,1946.4 302,1979.8 302.3,1943.5 302.9,1978.2 303.6,1942 304.2,1975.9 304.9,1947.5 305.5,1976.5 306.1,1942.5 306.7,1977.3 307.3,1942.4 307.9,1980.6 308.6,1943.5 309.2,1981.2 309.7,1945.4 310.3,1981.4 310.9,1946.7 311.5,1981.4" stroke-width="1.2"/>
<polyline points="310.8,1941.4 311.6,1976.2 312.6,1938.9 313.3,1970.2 313.9,1917.2 314.6,1960.2 315.2,1892.6 316,1946.3 317,1893.7 317.7,1935.7 318.7,1903.2 319.5,1926.9 320,1895.8 320.8,1924.1 321.4,1881.3 322.2,1927.5 323.1,1888.3 323.9,1918.1 324.4,1879.3 325.1,1927.6 326.2,1892.4 327,1926.5 327.6,1880.2 328.3,1930.8 329.3,1885.3 330,1930.6 330.4,1896.1 331.1,1928.6 332.2,1892.2 333,1938.9 333.3,1896.2 334.1,1929.9 335,1902.5 335.8,1937.3 336.8,1895.1 337.5,1931.1 337.9,1861.9 338.7,1936.2 339.6,1865.8 340.4,1937.7 341,1859.6 341.8,1936.2 342.6,1867.8 343.3,1943.6 344,1844.1 344.8,1941.4 345.8,1842.5 346.5,1946.6 346.8,1849.5 347.5,1950.8 348.4,1854.4 349.1,1953.4 350.2,1897 350.9,1962 351.4,1923.4 352.2,1959.1 352.9,1956.4 353.6,1972.5" stroke-width="1.4"/>
<polyline points="353.7,1962.8 354.3,1980 354.9,1963 355.5,1980 356,1963.2 356.6,1980 357.1,1963.3 357.7,1980 358.1,1963 358.7,1980 359.6,1965.4 360.2,1980 360.9,1964.2 361.5,1980 362,1963.6 362.6,1980 363.1,1963.1 363.7,1980 364.3,1965.6 364.9,1980 365.7,1964 366.3,1980 366.6,1965.6 367.2,1980 367.7,1963.8 368.3,1980 369.3,1965.5 369.9,1980 370.3,1963.2 370.9,1980 371.7,1963.5 372.3,1980 372.8,1964.1 373.4,1980 373.8,1965.8 374.4,1980 375.1,1965.7 375.7,1980 376.2,1964.1 376.8,1980 377.3,1966.2 377.9,1980 378.5,1963.2 379.1,1980 379.9,1964.4 380.5,1980 381.1,1965.5 381.7,1980 382.4,1964 383,1980 383.3,1963.3 383.9,1980 384.8,1965.9 385.4,1980 385.8,1963.6 386.4,1980 387.3,1962.9 387.9,1980 388.1,1963.4 388.7,1980" stroke-width="2"/>
<polyline points="389.1,1961.9 389.7,1978.6 390,1934.2 390.6,1975.3 391.3,1929.7 391.9,1974.3 392.6,1927.4 393.2,1978 394,1939.3 394.6,1975 395.1,1909.6 395.7,1973.8 396,1911.7 396.6,1976.3 397.2,1923.9 397.8,1980.5 398.8,1917 399.4,1973.1 399.8,1935 400.4,1975.3 400.9,1921.3 401.5,1981.5 402.3,1925.6 402.9,1980.6 403.4,1914.6 404,1980.6 404.5,1921.7 405.1,1981.5 405.9,1925.4 406.5,1975.9 406.8,1922.4 407.4,1978 408,1937.1 408.6,1975.8 409.6,1933.3 410.2,1980.9 410.4,1919.9 411,1975.9 411.9,1918 412.5,1976.5 413.1,1935.9 413.7,1978.7 414,1913.8 414.6,1978.4 415.5,1917.4 416.1,1981.1 416.4,1939.2 417,1980.5 418,1929.6 418.6,1981.3 419.2,1939.9 419.8,1981.1 420.4,1944 421,1980.4 421.4,1947.4 422,1981.3 422.7,1929.4 423.3,1981.1 424,1940.5 424.6,1981.3 425,1935.5 425.6,1976.5 426.1,1943.5 426.7,1978.2 427.5,1932 428.1,1981.2 428.7,1921.4 429.3,1978.9 430,1936.1 430.6,1981.5 430.9,1928.7 431.5,1981.4 432,1925.4 432.6,1978.6 433.5,1939 434.1,1973.2 434.4,1934 435,1973.8 436,1931.2 436.6,1974.5 437,1918 437.6,1980.1 438.2,1911.6 438.8,1974.9 439.3,1922.5 439.9,1974.7 440.7,1929.5 441.3,1973.7 441.9,1930.7 442.5,1981.3 443.1,1914.2 443.7,1974.9 444.2,1916.6 444.8,1974.6 445.5,1921.2 446.1,1980.4 446.5,1908.1 447.1,1980.9 447.7,1924.2 448.3,1979.4 449.2,1926.3 449.8,1974.2 450.2,1915.9 450.8,1973.1 451.6,1917.8 452.2,1980.9 452.7,1915.8 453.3,1977.3 453.6,1915 454.2,1981.3 455.1,1925.8 455.7,1981.3 456,1909.3 456.6,1981.2 457.5,1915.6 458.1,1977.6 458.7,1924.2 459.3,1976.2 459.7,1924.4 460.3,1976.5 461,1913.1 461.6,1981.4 462.2,1901.4 462.8,1978.9 463.3,1926.1 463.9,1974.4 464.8,1917.2 465.4,1980.8 465.6,1923.5 466.2,1980.9 467,1922.3 467.6,1975.4 468.1,1903.8 468.7,1975.7 469.2,1901.2 469.8,1981.5 470.7,1905.7 471.3,1979.2 471.7,1926.5 472.3,1981 472.8,1926.4 473.4,1977.7 474.4,1905.8 475,1981.4 475.4,1927.2 476,1979.8 476.6,1924.2 477.2,1981.5 478,1920.3 478.6,1976.8 479.1,1925.9 479.7,1975.4 480.3,1925.8 480.9,1979.9 481.6,1926 482.2,1978.5 482.5,1911.4 483.1,1979.1 483.9,1925.2 484.5,1978.1 485.2,1936.8 485.8,1973.5 486.1,1925 486.7,1978.2 487.2,1942 487.8,1978.8 488.7,1930.9 489.3,1981.3 490,1925.3 490.6,1977.6 491,1916.2 491.6,1980.9 492,1919.5 492.6,1974.4 493.5,1919.5 494.1,1980.6 494.8,1911.8 495.4,1980.5 495.8,1925.4 496.4,1981.5 497,1907.8 497.6,1972.7 498.2,1922.1 498.8,1981.2 499.5,1907 500.1,1977.1 500.6,1925.1 501.2,1976.2 501.7,1910 502.3,1981.1 503,1923.5 503.6,1979.3 504.2,1911.7 504.8,1980.8 505.6,1916.1 506.2,1974.1 506.6,1914.5 507.2,1981.2 507.7,1933 508.3,1979.2 509.1,1912.1 509.7,1979.1 510.3,1923.7 510.9,1980.9 511.5,1921.9 512.1,1975.4 512.6,1925.5 513.2,1980.9 513.8,1937.5 514.4,1980 514.9,1933.3 515.5,1981.4 516.1,1928.1 516.7,1977.9 517.5,1925.5 518.1,1981 518.5,1914.8 519.1,1979.5 519.8,1918.8 520.4,1978 520.9,1918.6 521.5,1978.9 522.4,1925.1 523,1981.3 523.6,1933.1 524.2,1981 524.4,1932.2 525,1975.7 525.9,1926.6 526.5,1981.5 527,1924.1 527.6,1972.7 528.1,1938.7 528.7,1980.3 529.4,1932.3 530,1978.4 530.5,1928.5 531.1,1980.3 531.8,1940.2 532.4,1981.2 533.1,1938.6 533.7,1976.7 534.4,1928.8 535,1981.1 535.5,1934.4 536.1,1980.9 536.8,1932.4 537.4,1977.3 537.8,1922.2 538.4,1980 539.1,1917.4 539.7,1981 540.1,1917 540.7,1979.4 541.2,1942.1 541.8,1981.5 542.8,1917.7 543.4,1981.1 543.8,1922.2 544.4,1973 545.1,1939.8 545.7,1981 546.2,1921.8 546.8,1981.3 547.3,1940.1 547.9,1976.5 548.4,1924.9 549,1979.8 549.9,1919.3 550.5,1973.8 551.1,1926.3 551.7,1981.2 552.1,1935 552.7,1979 553.6,1930.7 554.2,1973.4 554.6,1941.6 555.2,1981.5 555.8,1919.7 556.4,1978 556.8,1916.3 557.4,1981.4 558,1933.2 558.6,1972.7 559.3,1923.7 559.9,1976.7 560.8,1934.1 561.4,1973.3 561.8,1922.2 562.4,1979.1 562.8,1928.2 563.4,1981.4 564.1,1937 564.7,1977.3 565.5,1930.1 566.1,1972.6 566.4,1937.8 567,1980.7 568,1915.8 568.6,1973.2 569.1,1924.7 569.7,1981.5 570,1933 570.6,1979.7 571.2,1913.3 571.8,1976.6 572.7,1915.8 573.3,1977.5 573.7,1918.4 574.3,1979.4 574.8,1928.1 575.4,1980.6 576,1922.6 576.6,1981.4 577.5,1926.9 578.1,1981.4 578.8,1914.5 579.4,1981.4 579.9,1922.4 580.5,1979.8 580.9,1912.4 581.5,1979.3 582,1924.7 582.6,1980.1 583.2,1927 583.8,1980.5 584.7,1927 585.3,1981.5 585.8,1928.9 586.4,1972.6 587,1915.1 587.6,1973.3 588,1926.1 588.6,1976 589.3,1904.9 589.9,1980.7 590.4,1923.1 591,1979.7 591.6,1912.7 592.2,1981 593.2,1900.7 593.8,1981.2 594.2,1907.3 594.8,1976.9 595.4,1904.2 596,1981.3 596.5,1913.8 597.1,1979.8 597.7,1919.2 598.3,1981.2 599.1,1924.2 599.7,1981.1 600.4,1917.3 601,1973.6 601.6,1914 602.2,1978.6 602.6,1916.9 603.2,1977.5 603.9,1929.3 604.5,1972.5 604.9,1925.5 605.5,1975.7 606,1954.9 606.6,1974.2 607.2,1952.5 607.8,1981.1 608.8,1962.1 609.4,1981.4 609.8,1947.4 610.4,1976.2 610.8,1950.1 611.4,1974.6 612.2,1941.9 612.8,1981.4 613.5,1953.9 614.1,1976.8 614.4,1949.7 615,1981.2 615.7,1936.4 616.3,1973 617.1,1938.2 617.7,1978.6 618.3,1933.8 618.9,1978.8 619.5,1953 620.1,1977.3 620.5,1949.7 621.1,1981.1 622,1953.4 622.6,1981.3 623.2,1939.7 623.8,1981.5 624.1,1953.5 624.7,1980.4 625.5,1945.3 626.1,1977.7 626.7,1939.2 627.3,1980.7 627.9,1939.5 628.5,1979.7 628.9,1940.9 629.5,1981 630.1,1955.5 630.7,1972.5 631.3,1953 631.9,1976 632.8,1953.1 633.4,1973.2 633.7,1933.4 634.3,1972.8 634.9,1951.3 635.5,1981.4 636.3,1932.4 636.9,1976 637.3,1946.2 637.9,1981.2 638.8,1936.4 639.4,1980.5 639.8,1944.8 640.4,1980.7 640.8,1930.7 641.4,1978.8 642,1931.6 642.6,1981.5 643.5,1945.2 644.1,1975.5 644.4,1937 645,1973.5 645.7,1934 646.3,1978.4 647.2,1952.3 647.8,1975.6 648.2,1930.2 648.8,1980.9 649.6,1938.9 650.2,1980.6 650.6,1955.2 651.2,1973.2 651.9,1945.6 652.5,1981.5 653.1,1948.4 653.7,1981.4 654.3,1948.2 654.9,1973.8 655.2,1929.2 655.8,1981.5 656.8,1939.1 657.4,1981.5 657.9,1954.2 658.5,1978.6 658.9,1958.2 659.5,1980.3 660.3,1940.9 660.9,1978.2 661.2,1953.2 661.8,1981.4 662.8,1938.7 663.4,1980.7 663.7,1940.8 664.3,1976.8 664.8,1938.8 665.4,1976.7 666.4,1946.7 667,1973 667.4,1947.2 668,1979 668.4,1934.8 669,1977 669.7,1930.6 670.3,1976.7 671.1,1927.2 671.7,1978.2 672.2,1936 672.8,1980.8 673.6,1950.8 674.2,1981.5 674.4,1951.6 675,1977.4 675.6,1948.2 676.2,1975.4 676.8,1925.4 677.4,1976 678,1935.7 678.6,1979.9 679.5,1925.9 680.1,1974.5 680.4,1920.4 681,1980.3 681.7,1928.5 682.3,1981.5 682.9,1921.9 683.5,1981.1 684.1,1941.8 684.7,1974.4 685.5,1943.2 686.1,1979.2 686.7,1942.6 687.3,1979.9 687.9,1941.5 688.5,1976.4 689.2,1946 689.8,1980.2 690.3,1933.5 690.9,1980.5 691.5,1938.7 692.1,1975.5 692.4,1961.5 693,1981.5 693.8,1955.1 694.4,1981 695,1944 695.6,1980.6 696.3,1935.4 696.9,1981.5 697.5,1945.7 698.1,1981.1 698.4,1947.6 699,1980.3 699.7,1952.2 700.3,1981.1 700.8,1937.2 701.4,1977.3 702.1,1933.3 702.7,1981.5 703.3,1925.1 703.9,1978.8 704.4,1949.7 705,1973.8 705.6,1937.1 706.2,1979.1 707,1950.7 707.6,1980.4 708.3,1940.3 708.9,1975.5 709.4,1946.7 710,1981.4 710.6,1942.1 711.2,1976.8 711.8,1941.9 712.4,1973.7 713.1,1959.8 713.7,1981.4 714.1,1962.6 714.7,1980.2 715.4,1946.1 716,1977.9 716.6,1974 717.2,1980 717.6,1976.7 718.2,1981.5 718.8,1970.5 719.4,1980.7 720.1,1978.5 720.7,1979 721.3,1957.8 721.9,1981.5 722.8,1980.3 723.4,1980.8" stroke-width="1.2"/>
<polyline points="723,1959.4 723.6,1972.6 724.3,1963.6 724.9,1978.4 725.6,1963.3 726.2,1974.3 726.6,1955.2 727.2,1975.8 727.6,1959.8 728.2,1970.9 729.2,1957.2 729.8,1977.8 730.3,1953.1 730.9,1976.9 731.2,1953.3 731.8,1978.9 732.8,1948.9 733.4,1979.5 733.8,1955.5 734.4,1978.9 735,1948.3 735.6,1975.3 736.4,1956.2 737,1979.5 737.5,1955.7 738.1,1978.6 738.7,1949.5 739.3,1978.3 739.9,1949.3 740.5,1976.6 740.9,1953.7 741.5,1977.6 742.3,1950.2 742.9,1971.1 743.5,1950 744.1,1971.3 744.7,1957.3 745.3,1976.2 746,1953.8 746.6,1977.4 746.9,1956.1 747.5,1972.6 748.2,1960 748.8,1977.7 749.5,1958.7 750.1,1975.5 750.8,1957.5 751.4,1974.6 751.6,1949.8 752.2,1979.5 753.1,1949.9 753.7,1978.8 754.2,1953.9 754.8,1977.4 755.3,1947.3 755.9,1977.7 756.5,1953 757.1,1977.6 757.8,1948.4 758.4,1979.5 759.1,1950 759.7,1979.4 760.2,1949.9 760.8,1978.2 761.3,1946.1 761.9,1979.4 762.6,1947 763.2,1972.4 763.6,1951.1 764.2,1977.8 765,1949.5 765.6,1972.9 766.3,1946 766.9,1977.7 767.5,1944.2 768.1,1977.7 768.4,1946.7 769,1976.6 769.9,1945.2 770.5,1971.5 770.8,1946.5 771.4,1974.3 772.1,1948.8 772.7,1977.9 773.2,1946.1 773.8,1978.9 774.7,1946.3 775.3,1979.5 775.8,1946.5 776.4,1973.2 776.9,1949.9 777.5,1978.8 778.2,1952.1 778.8,1972.1 779.6,1946.7 780.2,1975.3 780.7,1947.1 781.3,1971.3 781.9,1952.7 782.5,1979.2 783.1,1953 783.7,1971.6 784.1,1950.2 784.7,1977.7 785.5,1952.3 786.1,1970.7 786.4,1947.6 787,1979.3 787.8,1951.4 788.4,1978.9 789,1945.4 789.6,1974.3 790.3,1952.2 790.9,1972 791.3,1947.3 791.9,1978.1 792.8,1950.7 793.4,1979.4 793.6,1948.2 794.2,1979.5 794.9,1948.7 795.5,1973.1 796.4,1950.7 797,1970.9 797.6,1946.9 798.2,1977 798.6,1948.8 799.2,1975.4" stroke-width="1.2"/>
</g>
<g stroke="#000" stroke-width="2.4" fill="none">
<line x1="321.9" y1="1584.4" x2="321.9" y2="1983.7"/>
<line x1="483.9" y1="1584.4" x2="483.9" y2="1983.7"/>
<line x1="647.8" y1="1584.4" x2="647.8" y2="1983.7"/>
<line x1="810.2" y1="1584.4" x2="810.2" y2="1983.7"/>
<line x1="160.3" y1="1585.6" x2="811.4" y2="1585.6"/>
<line x1="160.3" y1="1683.5" x2="811.4" y2="1683.5"/>
<line x1="160.3" y1="1782.8" x2="811.4" y2="1782.8"/>
<line x1="160.3" y1="1881.4" x2="811.4" y2="1881.4"/>
</g>
<g stroke="#000" fill="none">
<line x1="160.3" y1="1583" x2="160.3" y2="1987.2" stroke-width="6"/>
<line x1="157.3" y1="1983.7" x2="811.5" y2="1983.7" stroke-width="7"/>
</g>
<g fill="none" stroke="#000" stroke-linejoin="round" stroke-linecap="round">
<polyline points="163,1983 312,1983 315.4,1941.3 318.9,1920.6 322.4,1916 327,1911.3 330.4,1907.9 333.9,1911.3 338.5,1905.6 343.1,1902.1 346.5,1896.4 348.8,1918.2 351.2,1952.8 353.5,1978 356,1983 390,1983 391.5,1980 393.8,1966.6 399.5,1965.5 404.1,1959.7" stroke-width="2.8"/>
<polyline points="404,1961 405,1966 406,1959.1 407,1959.1 408,1957.9 409,1959.8 410,1966.1 411,1956.1 412,1960.6 413,1962.1 414,1956.6 415,1959.6 416,1963.4 417,1960.1 418,1967.6 419,1966.7 420,1965.7 421,1957.9 422,1956.7 423,1957.3 424,1966 425,1955.4 426,1963.5 427,1966.9 428,1963.2 429,1957 430,1965.4 431,1966.2 432,1960.9 433,1962.9 434,1964.9 435,1956.4 436,1958.3 437,1960.6 438,1962 439,1961.9 440,1968.2 441,1959.8 442,1962.5 443,1961.9 444,1957.6 445,1957.7 446,1955.4 447,1962.3 448,1961.8 449,1954 450,1963.8 451,1959 452,1960.6 453,1956.1 454,1960.4 455,1960.7 456,1952.4 457,1962.2 458,1962.8 459,1961.9 460,1960 461,1956.2 462,1952.9 463,1953.6 464,1963.8 465,1960.5 466,1965.1 467,1966.4 468,1954.2 469,1955.2 470,1954.5 471,1954.9 472,1959.6 473,1965.1 474,1964.4 475,1962.4 476,1963.7 477,1966 478,1965.7 479,1955.8 480,1962.8 481,1958.5 482,1958.1 483,1959.3 484,1956.1 485,1964.3 486,1955.8 487,1955 488,1957.3 489,1961.7 490,1961.5 491,1960.4 492,1962.9 493,1958.5 494,1966 495,1962.1 496,1965.9 497,1962 498,1965.4 499,1963.2 500,1967.1 501,1958.7 502,1954.8 503,1955.7 504,1961.5 505,1955.6 506,1964.8 507,1966.8 508,1966.6 509,1955.7 510,1957.8 511,1961.5 512,1957.6 513,1957.3 514,1961.9 515,1956.1 516,1957.5 517,1962.8 518,1959.8 519,1967.3 520,1966.1 521,1962 522,1963.1 523,1958.7 524,1962.9 525,1960.1 526,1964.4 527,1959.5 528,1967.4 529,1961.2 530,1967.3 531,1966.7 532,1957.8 533,1966.6 534,1965.6 535,1967.2 536,1963.3 537,1959.1 538,1961.5 539,1961.9 540,1959.7 541,1966.3 542,1966.5 543,1959.3 544,1965.4 545,1959.3 546,1961.6 547,1964 548,1964.2 549,1962 550,1965.7 551,1959.8 552,1963.3 553,1963.5 554,1964.5 555,1965.3 556,1962.1 557,1960.7 558,1960.1 559,1962.9 560,1961.1 561,1962 562,1962.8 563,1962.2 564,1964.8 565,1966.2 566,1965.4 567,1962.1 568,1962.4 569,1965.9 570,1965.1 571,1964.7 572,1965.3 573,1961.8 574,1963.4 575,1963.7 576,1965 577,1964.7 578,1962" stroke-width="3.2"/>
<polyline points="578,1964.3 586,1962 593.6,1958.6 600,1962 607.5,1963.2 616,1963.5 625.9,1966.6 632,1964 637.4,1960.9 644,1963 651.2,1964.3 657,1962 662.8,1962 667,1964.5 672,1965.5 678,1963 683.5,1963.2 692,1963.5 702,1963.2 711.2,1965.5 718,1969 721.5,1978 723.5,1983 808,1983" stroke-width="2.8"/>
</g>
<g>
<text x="141.5" y="1496">c)</text>
<text x="181.8" y="1550.5">v<tspan font-size="30" dy="8">c</tspan><tspan dy="-8">= 301 m/min</tspan></text>
<text x="527.5" y="1550.5">v<tspan font-size="30" dy="8">f</tspan><tspan dy="-8"> = 1 m/min</tspan></text>
<text x="131" y="1607.2" text-anchor="end">500</text>
<text x="126.3" y="1708.4" text-anchor="end">N</text>
<text x="131" y="1810.5" text-anchor="end">250</text>
<text x="127.7" y="1908.5" text-anchor="end">125</text>
<text x="127.7" y="2007.8" text-anchor="end">0</text>
<text x="160.3" y="2052" text-anchor="middle">0.0</text>
<text x="335.2" y="2052" text-anchor="middle">2.5</text>
<text x="494" y="2052" text-anchor="middle">5</text>
<text x="651.2" y="2052" text-anchor="middle">s</text>
<text x="823" y="2052" text-anchor="middle">10</text>
<text x="481.4" y="2120" text-anchor="middle">Time</text>
<text transform="translate(38.2 1782.3) rotate(-90)" text-anchor="middle">Cutting force F</text>
</g>
</g>
<g id="chart-cr">
<g fill="none" stroke="#1550cf" stroke-linejoin="round" stroke-linecap="round">
<polyline points="1081,1959 1081.8,1979.8 1082.7,1960 1083.5,1978.7 1083.8,1961.5 1084.6,1980.5 1085.8,1958.1 1086.5,1978.5 1087,1960 1087.7,1980 1088.4,1961.2 1089.1,1979.5 1090.3,1960.3 1091,1978.5 1091.7,1963.7 1092.5,1980.3 1093,1959.1 1093.7,1979.4 1094.6,1960.2 1095.4,1980 1096,1961.2 1096.7,1981 1097.7,1963 1098.5,1978.4 1098.7,1963.4 1099.5,1981 1100.6,1962.3 1101.4,1978.8 1102.2,1960.9 1103,1979.2 1103.8,1963.6 1104.5,1979 1105,1959.3 1105.7,1979.6 1106.7,1962.3 1107.4,1980.6 1108.1,1960 1108.8,1978.4 1109.8,1958.4 1110.5,1978.1 1110.9,1957.6 1111.7,1978.3 1112.7,1963.2 1113.4,1979.4 1114,1961.9 1114.7,1980.3 1115.4,1960.1 1116.2,1980.1 1116.9,1962.8 1117.6,1979.5 1118.4,1957.6 1119.1,1979 1120.1,1962.4 1120.9,1980.9 1121.7,1961.3 1122.5,1980.6 1123,1959.2 1123.7,1980.5 1124.4,1958.8 1125.2,1981 1126.3,1960.7 1127,1980.3 1127.6,1958.3 1128.4,1980.6 1129.3,1963.2 1130,1980.9 1130.4,1961 1131.1,1978.4 1132,1963.3 1132.8,1980.8 1133.2,1963.6 1134,1979.6 1134.7,1960.2 1135.5,1978.2 1136.5,1961.4 1137.2,1979.9 1137.9,1959.1 1138.6,1978.7 1139.6,1962.7 1140.4,1980.7 1141.2,1958.2 1141.9,1979.8 1142.6,1960 1143.4,1980.8 1143.8,1957.9 1144.5,1980.9 1145.8,1958.7 1146.5,1980.9 1147.3,1962 1148,1980.5 1148.3,1960.9 1149.1,1980.4 1150.1,1960.1 1150.9,1981 1151.3,1961.8 1152,1978.1 1153.3,1959.3 1154,1979.7 1154.2,1959.9 1155,1980.9 1155.9,1960.5 1156.6,1980.3 1157.4,1961.8 1158.2,1978.9 1159.2,1961 1160,1978.9 1160.5,1961.6 1161.2,1980.9 1162.1,1961.1 1162.8,1978.6 1163.7,1960.8 1164.5,1979.2 1164.8,1962.7 1165.6,1980.1 1166.6,1962.9 1167.4,1979.4 1168.2,1957.6 1169,1980.8 1169.8,1962.8 1170.5,1980.5 1171,1958.9 1171.7,1979.4 1172.4,1961.7 1173.1,1978.2 1174.3,1962.2 1175,1979.4 1175.7,1961.9 1176.4,1978.6 1176.8,1963 1177.5,1979.6 1178.8,1961.2 1179.5,1980.9 1180,1963 1180.7,1978.2 1181.8,1961.3 1182.5,1979.9 1182.7,1959 1183.5,1979.1 1184.5,1959.4 1185.3,1980.9 1186.1,1963.3 1186.8,1978.4 1187.6,1962.1 1188.4,1980.2 1189.3,1962.9 1190,1979.8 1190.7,1960.4 1191.4,1981 1191.9,1960.8 1192.6,1978.5 1193.5,1963.9 1194.2,1979.9 1195,1963.3 1195.8,1980.6 1196.6,1959.2 1197.4,1980.9 1198.2,1961 1198.9,1980.1 1199.2,1962.3 1200,1980.8 1201.1,1961.5 1201.9,1980.9 1202.5,1959.6 1203.3,1980.4 1204.2,1958.8 1204.9,1979.4 1205.4,1958.7 1206.1,1980.8 1206.8,1962 1207.6,1980.3 1208.6,1964.1 1209.3,1980.6 1209.9,1964 1210.6,1980.4 1211.4,1962.2 1212.1,1980.3 1213.2,1959.5 1214,1979.5 1214.4,1963.8 1215.1,1981 1215.9,1958.5 1216.6,1980.8 1217.3,1961.7 1218.1,1980.9 1219.2,1962 1220,1981 1220.6,1961.3 1221.4,1978.4 1222,1961 1222.7,1980.5 1223.4,1962.3 1224.1,1979.2 1224.9,1958.4 1225.6,1978.6 1226.6,1960 1227.3,1980.9 1228.2,1963.3 1229,1979.7 1229.7,1961.6 1230.4,1980.8 1230.9,1959.5 1231.6,1978.4 1232.2,1961.1 1233,1980.8 1233.8,1961.6 1234.5,1979.5 1235.3,1961.8 1236.1,1978.1 1236.7,1958.2 1237.5,1979.4 1238.2,1961.1 1239,1981 1239.8,1961.9 1240.5,1978.3 1241.6,1960.9 1242.4,1979 1242.8,1962.7 1243.6,1981 1244.4,1958.2 1245.1,1980.6 1246.3,1960.6 1247,1979 1247.3,1963 1248,1978.7 1248.7,1963.7 1249.5,1979.3 1250.4,1958.7 1251.2,1978.5 1251.8,1961.2 1252.5,1979.2 1253.5,1960.7 1254.3,1981 1255.3,1959.1 1256,1980.5 1256.4,1961.9 1257.1,1979.2 1258.2,1961.7 1258.9,1980.1 1259.4,1958.9 1260.1,1981 1261,1961.6 1261.7,1981 1262.4,1962.9 1263.2,1979.7 1264.1,1959.7 1264.8,1980.1 1265.5,1955.9 1266.2,1980 1267.1,1955.9 1267.8,1979.8 1268.5,1956 1269.3,1978.4 1270,1953.6 1270.7,1980.9" stroke-width="2.4"/>
<polyline points="1271,1953.4 1272.7,1972.1 1275,1944.8 1276.7,1974.8 1278.4,1941.8 1280.1,1972.9 1281.4,1932.6 1283.1,1959.3 1284.1,1880.6 1285.8,1945.4 1288.3,1858.4 1290,1951.8 1291.3,1850.6 1293,1952.8 1294.6,1863.2 1296.3,1946 1298.8,1872.7 1300.5,1942 1301.6,1861.6 1303.3,1928.5 1304.9,1883.3 1306.6,1938.3 1307.8,1870.6 1309.5,1943.9 1311.9,1847.8 1313.6,1933 1315.6,1840.5 1317.3,1943.9 1318.9,1861.2 1320.6,1941.9 1321.8,1870.8 1323.5,1940.8 1325.2,1879.4 1326.9,1931.3 1328.4,1865.1 1330.1,1938.6 1332.8,1840.2 1334.5,1932.7 1335.7,1825.6 1337.4,1940.9 1338.6,1845.4 1340.3,1942 1342.3,1814.3 1344,1943.4 1345.5,1812.1 1347.2,1936.5 1349.5,1829.5 1351.2,1940.3 1352.4,1828.1 1354.1,1945.2 1355.9,1857.1 1357.6,1954.2 1359.1,1891.3 1360.8,1956.8 1362.4,1934.9 1364.1,1968.4" stroke-width="3.2"/>
<polyline points="1365.9,1961.5 1366.7,1980.2 1367.3,1959 1368,1980.4 1368.8,1954.4 1369.5,1980 1370.3,1954.4 1371.1,1980.8 1372.2,1958.2 1372.9,1979.2 1373.3,1955.8 1374,1980.5 1375,1955.1 1375.7,1979.3 1376.7,1953.1 1377.4,1979.5 1377.8,1951.6 1378.6,1979.2 1379.6,1951 1380.4,1979.7 1381.2,1955 1382,1980 1382.3,1953.6 1383.1,1980.3 1383.9,1956.1 1384.7,1979.4 1385.2,1953.7 1386,1980.5 1386.8,1955 1387.6,1981 1388.5,1952.2 1389.3,1979.9 1389.7,1953 1390.5,1980.4 1391.3,1953.4 1392,1981 1392.7,1953 1393.5,1981 1394.2,1951.5 1395,1979.4 1396.3,1951.3 1397,1980.5 1397.7,1953.8 1398.4,1980.6 1399,1956.7 1399.8,1980 1400.3,1956.9 1401.1,1979.5 1401.8,1952.7 1402.6,1979.1 1403.4,1952.6 1404.2,1980.8 1404.8,1952.7 1405.6,1980 1406.5,1956.5 1407.2,1980.6 1408.2,1956.9 1408.9,1980.7 1409.4,1959.1 1410.1,1979.4 1411,1956.7 1411.8,1979.8 1412.6,1961.4 1413.3,1980.4 1414.1,1963.3 1414.9,1981 1415.4,1963.3 1416.2,1980 1416.9,1962.1 1417.7,1980.9 1418.7,1961.5 1419.5,1979.6 1420.2,1965.5 1421,1980.6 1421.5,1961.2 1422.2,1981 1422.9,1962.3 1423.6,1979.5 1424.7,1962.4 1425.4,1981 1426,1961.7 1426.7,1979.7 1427.3,1956.6 1428,1980.9 1429.2,1956.9 1430,1980.8 1430.5,1956 1431.3,1981 1432.3,1954.6 1433,1980.7 1433.3,1956.6 1434.1,1981 1435,1954.1 1435.7,1980.1 1436.7,1954.8 1437.5,1980.4 1438.2,1956.2 1439,1980.4 1439.4,1954.4 1440.1,1979.7 1441.1,1953.8 1441.8,1980.5 1442.3,1958.1 1443,1979.5 1444.1,1952.4 1444.9,1980" stroke-width="2.4"/>
<polyline points="1444.5,1951.3 1446.3,1951.8 1447.8,1933.6 1449.6,1964.3 1451.9,1936.7 1453.7,1951.8 1455.1,1900.2 1456.9,1927.6 1459.4,1828 1461.2,1911.8 1463.2,1811.9 1465,1903.8 1465.5,1768.4 1467.3,1931.8 1469,1800 1470.8,1903.6 1474,1786.6 1475.8,1920.3 1477.2,1763.5 1479,1928 1481.2,1764.7 1483,1921.9 1483.6,1786.9 1485.4,1915.2 1487.6,1758.1 1489.4,1914.9 1491.5,1802.9 1493.3,1930.3 1495.5,1775.1 1497.3,1922.3 1499.1,1763.5 1500.9,1932.5 1502.8,1756.3 1504.6,1920.9 1505.3,1781.1 1507.1,1917.3 1508.6,1780.4 1510.4,1905.9 1513.3,1784.8 1515.1,1934.8 1515.8,1789.8 1517.6,1932.6 1519.9,1770.5 1521.7,1929.2 1523.6,1796.1 1525.4,1922 1527.2,1787.6 1529,1924.2 1531.3,1804.5 1533.1,1921 1534.8,1765.5 1536.6,1919.6 1538.6,1754.8 1540.4,1931.1 1542.4,1774.1 1544.2,1917.5 1545.3,1793.8 1547.1,1933.6 1548.9,1773.4 1550.7,1918.6 1552.1,1769.6 1553.9,1925 1555.4,1751 1557.2,1914.2 1560,1779.6 1561.8,1913.7 1562.9,1769.8 1564.7,1907 1567.6,1820.5 1569.4,1903.5 1569.8,1838.1 1571.6,1923.3 1574.6,1854.6 1576.4,1923.6 1577.9,1849.6 1579.7,1918.9 1581.3,1859 1583.1,1906.7 1584.3,1836.9 1586.1,1922.1 1587.8,1815.1 1589.6,1922.5 1591.7,1798.3 1593.5,1901.4 1595.7,1808.1 1597.5,1924.1 1599.7,1802.7 1601.5,1904.3 1602.7,1761.3 1604.5,1917.6 1606.3,1760.8 1608.1,1928.5 1610.6,1767.1 1612.4,1919.7 1614.3,1794.7 1616.1,1899.8 1617.2,1743.5 1619,1909 1620.4,1758.1 1622.2,1910 1624.7,1809.8 1626.5,1912.9 1628,1789.7 1629.8,1906.6 1631.5,1801.9 1633.3,1924.4 1636,1862.4 1637.8,1925.8 1639,1892.2 1640.8,1928.5 1642.7,1920.6 1644.5,1953.9 1646.8,1931.6 1648.6,1965.8 1650,1965.2 1651.8,1965.7 1653.7,1964.9 1655.5,1965.4 1656.8,1970.1 1658.6,1970.6" stroke-width="3.3"/>
<polyline points="1655.8,1959.6 1656.6,1979.6 1657.3,1961.7 1658,1980.7 1659.2,1964.6 1660,1980.9 1660.5,1965.4 1661.3,1980.7 1661.7,1961.4 1662.5,1979.1 1663.3,1965 1664,1979.4 1665,1965.4 1665.7,1979.2 1666.8,1962.5 1667.5,1981 1668.1,1961.1 1668.8,1979.3 1669.7,1962.5 1670.5,1980.4 1671.2,1962.4 1672,1980 1672.6,1964.6 1673.3,1980.9 1674.2,1961.3 1675,1980.5 1675.4,1962.1 1676.2,1980.9 1677.2,1964.6 1678,1979.7 1678.2,1964.7 1679,1980.8 1680.2,1962.8 1681,1980.8 1681.6,1961.9 1682.3,1980.2 1682.9,1961.4 1683.6,1979.7 1684.5,1965.4 1685.2,1980.9 1686.2,1963.3 1686.9,1979.4 1687.7,1964.6 1688.5,1980.8 1689.3,1963.5 1690,1980 1690.7,1963 1691.4,1979 1691.8,1967.3 1692.5,1980.9 1693.4,1963.7 1694.2,1979.7 1694.9,1968.6 1695.6,1980.4 1696.8,1965.2 1697.5,1979.9 1698.3,1963.5 1699,1979.4 1699.2,1967.1 1700,1979.5 1700.8,1963.6 1701.5,1979.1 1702.7,1961.9 1703.5,1980.8 1704,1967.5 1704.8,1979.3 1705.4,1962.5 1706.1,1980.1 1706.9,1965.9 1707.7,1979.6 1708.8,1964.3 1709.5,1980 1710.3,1964.6 1711,1980.5 1711.2,1966.6 1712,1980.6 1713.2,1964.9 1714,1980.3 1714.3,1966.5 1715.1,1979.2 1716.1,1963.5 1716.8,1980.9 1717.7,1965.2 1718.4,1980.3 1719.2,1966.1 1720,1979.8 1720.3,1969.5 1721.1,1980.4 1722,1969.5 1722.7,1980 1723.5,1970.3 1724.2,1979.9 1725.2,1965.7 1725.9,1979.2 1726.3,1966.3 1727.1,1980.8" stroke-width="2.4"/>
</g>
<g stroke="#000" stroke-width="2.4" fill="none">
<line x1="1243.3" y1="1584.4" x2="1243.3" y2="1984.8"/>
<line x1="1405.3" y1="1584.4" x2="1405.3" y2="1984.8"/>
<line x1="1568.9" y1="1584.4" x2="1568.9" y2="1984.8"/>
<line x1="1732" y1="1584.4" x2="1732" y2="1984.8"/>
<line x1="1078.5" y1="1585.6" x2="1733.2" y2="1585.6"/>
<line x1="1078.5" y1="1684" x2="1733.2" y2="1684"/>
<line x1="1078.5" y1="1784.1" x2="1733.2" y2="1784.1"/>
<line x1="1078.5" y1="1885.3" x2="1733.2" y2="1885.3"/>
</g>
<g stroke="#000" fill="none">
<line x1="1078.5" y1="1583" x2="1078.5" y2="1988" stroke-width="6"/>
<line x1="1075.5" y1="1984.8" x2="1733.5" y2="1984.8" stroke-width="6.5"/>
</g>
<g fill="none" stroke="#000" stroke-linejoin="round" stroke-linecap="round">
<polyline points="1081,1981.5 1100,1980.5 1120,1982 1140,1981 1160,1981.5 1180,1980.5 1200,1981.5 1220,1981 1240,1981.5 1262,1980.5 1270,1982 1277.9,1980.5 1283.6,1964.3 1288.2,1941.3 1290.8,1931 1292.9,1916 1295.9,1910.9 1303.4,1911.9 1311,1908.3 1316,1913.4 1323.6,1901.8 1331.1,1908.3 1336.2,1910.9 1342.7,1893.2 1348.8,1888.2 1353.8,1893.2 1357.9,1921 1361.4,1956.2 1366.4,1980.4 1371.5,1981.4 1378,1975.4 1384,1981.4 1400,1981 1420,1981.5 1442.2,1980.5 1448,1971.2 1452.5,1955 1456,1941.3 1460.6,1932 1464,1911.3 1467.5,1899.8 1473.3,1898.7 1476.7,1883.7 1479,1881.4 1482.5,1892.9 1488.2,1898.7 1495.2,1899.8 1506.7,1897.5 1513.6,1894 1519.4,1904.4 1526.3,1888.3 1532,1895.2 1539,1901 1548.2,1894 1555,1886 1559.7,1880.2 1564.3,1888.3 1568.9,1906.7 1575.8,1902 1580.4,1895.2 1585,1899.8 1592,1888.3 1596.5,1884.8 1603.5,1890.6 1609.2,1904.4 1615,1897.5 1620.7,1884.8 1624.2,1888.3 1628.8,1898.7 1633.4,1901 1638,1918.2 1642.6,1941.3 1647.2,1959.7 1651.8,1971.2 1656.5,1978 1663.4,1980.5 1680,1981.5 1700,1980.5 1730,1981.5" stroke-width="2.8"/>
</g>
<g>
<text x="1116.3" y="1550.5">v<tspan font-size="30" dy="8">c</tspan><tspan dy="-8">= 904 m/min</tspan></text>
<text x="1464" y="1550.5">v<tspan font-size="30" dy="8">f</tspan><tspan dy="-8"> = 4 m/min</tspan></text>
<text x="1052.9" y="1610.7" text-anchor="end">500</text>
<text x="1045.9" y="1708.4" text-anchor="end">N</text>
<text x="1056.9" y="1811.2" text-anchor="end">250</text>
<text x="1050.9" y="1907" text-anchor="end">125</text>
<text x="1047.9" y="2005.4" text-anchor="end">0</text>
<text x="1076.6" y="2052" text-anchor="middle">0.0</text>
<text x="1236.4" y="2052" text-anchor="middle">1</text>
<text x="1411.8" y="2052" text-anchor="middle">2</text>
<text x="1570.6" y="2052" text-anchor="middle">s</text>
<text x="1729.3" y="2052" text-anchor="middle">4</text>
<text x="1403.2" y="2122.8" text-anchor="middle">Time</text>
<text transform="translate(969.8 1783.5) rotate(-90)" text-anchor="middle">Cutting force F</text>
</g>
</g>
</svg>
</body>
</html>
